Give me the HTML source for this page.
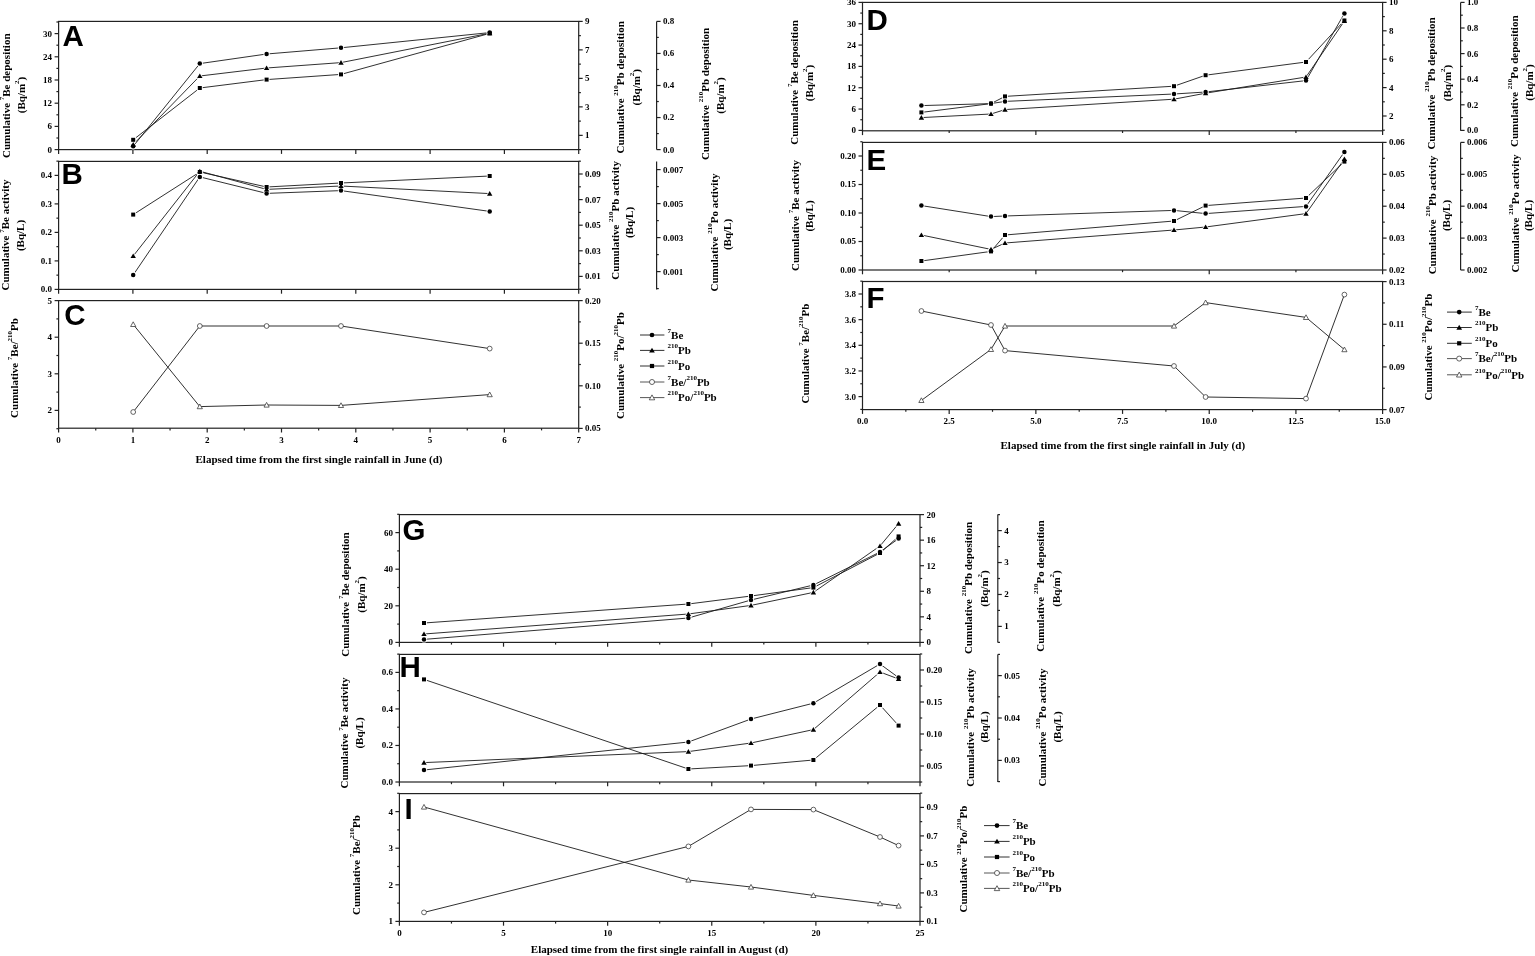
<!DOCTYPE html>
<html><head><meta charset="utf-8"><title>Cumulative deposition figure</title>
<style>
html,body{margin:0;padding:0;background:#fff;}
body{width:1535px;height:956px;overflow:hidden;}
svg{display:block;}
text{fill:#000;}
</style></head>
<body>
<svg width="1535" height="956" viewBox="0 0 1535 956">
<rect width="1535" height="956" fill="#fff"/>
<rect x="58.6" y="21.4" width="520.1" height="128.2" fill="none" stroke="#222" stroke-width="1.2"/>
<rect x="58.6" y="161.4" width="520.1" height="128" fill="none" stroke="#222" stroke-width="1.2"/>
<rect x="58.6" y="300.6" width="520.1" height="127.6" fill="none" stroke="#222" stroke-width="1.2"/>
<line x1="58.6" y1="149.6" x2="58.6" y2="153.9" stroke="#222" stroke-width="1.2"/>
<line x1="132.9" y1="149.6" x2="132.9" y2="153.9" stroke="#222" stroke-width="1.2"/>
<line x1="207.2" y1="149.6" x2="207.2" y2="153.9" stroke="#222" stroke-width="1.2"/>
<line x1="281.5" y1="149.6" x2="281.5" y2="153.9" stroke="#222" stroke-width="1.2"/>
<line x1="355.8" y1="149.6" x2="355.8" y2="153.9" stroke="#222" stroke-width="1.2"/>
<line x1="430.1" y1="149.6" x2="430.1" y2="153.9" stroke="#222" stroke-width="1.2"/>
<line x1="504.4" y1="149.6" x2="504.4" y2="153.9" stroke="#222" stroke-width="1.2"/>
<line x1="578.7" y1="149.6" x2="578.7" y2="153.9" stroke="#222" stroke-width="1.2"/>
<line x1="58.6" y1="289.4" x2="58.6" y2="293.7" stroke="#222" stroke-width="1.2"/>
<line x1="132.9" y1="289.4" x2="132.9" y2="293.7" stroke="#222" stroke-width="1.2"/>
<line x1="207.2" y1="289.4" x2="207.2" y2="293.7" stroke="#222" stroke-width="1.2"/>
<line x1="281.5" y1="289.4" x2="281.5" y2="293.7" stroke="#222" stroke-width="1.2"/>
<line x1="355.8" y1="289.4" x2="355.8" y2="293.7" stroke="#222" stroke-width="1.2"/>
<line x1="430.1" y1="289.4" x2="430.1" y2="293.7" stroke="#222" stroke-width="1.2"/>
<line x1="504.4" y1="289.4" x2="504.4" y2="293.7" stroke="#222" stroke-width="1.2"/>
<line x1="578.7" y1="289.4" x2="578.7" y2="293.7" stroke="#222" stroke-width="1.2"/>
<line x1="58.6" y1="428.2" x2="58.6" y2="432.5" stroke="#222" stroke-width="1.2"/>
<text x="58.6" y="442.8" text-anchor="middle" font-family="'Liberation Serif','Times New Roman',serif" font-weight="bold" font-size="9">0</text>
<line x1="95.75" y1="428.2" x2="95.75" y2="430.4" stroke="#222" stroke-width="1.2"/>
<line x1="132.9" y1="428.2" x2="132.9" y2="432.5" stroke="#222" stroke-width="1.2"/>
<text x="132.9" y="442.8" text-anchor="middle" font-family="'Liberation Serif','Times New Roman',serif" font-weight="bold" font-size="9">1</text>
<line x1="170.05" y1="428.2" x2="170.05" y2="430.4" stroke="#222" stroke-width="1.2"/>
<line x1="207.2" y1="428.2" x2="207.2" y2="432.5" stroke="#222" stroke-width="1.2"/>
<text x="207.2" y="442.8" text-anchor="middle" font-family="'Liberation Serif','Times New Roman',serif" font-weight="bold" font-size="9">2</text>
<line x1="244.35" y1="428.2" x2="244.35" y2="430.4" stroke="#222" stroke-width="1.2"/>
<line x1="281.5" y1="428.2" x2="281.5" y2="432.5" stroke="#222" stroke-width="1.2"/>
<text x="281.5" y="442.8" text-anchor="middle" font-family="'Liberation Serif','Times New Roman',serif" font-weight="bold" font-size="9">3</text>
<line x1="318.65" y1="428.2" x2="318.65" y2="430.4" stroke="#222" stroke-width="1.2"/>
<line x1="355.8" y1="428.2" x2="355.8" y2="432.5" stroke="#222" stroke-width="1.2"/>
<text x="355.8" y="442.8" text-anchor="middle" font-family="'Liberation Serif','Times New Roman',serif" font-weight="bold" font-size="9">4</text>
<line x1="392.95" y1="428.2" x2="392.95" y2="430.4" stroke="#222" stroke-width="1.2"/>
<line x1="430.1" y1="428.2" x2="430.1" y2="432.5" stroke="#222" stroke-width="1.2"/>
<text x="430.1" y="442.8" text-anchor="middle" font-family="'Liberation Serif','Times New Roman',serif" font-weight="bold" font-size="9">5</text>
<line x1="467.25" y1="428.2" x2="467.25" y2="430.4" stroke="#222" stroke-width="1.2"/>
<line x1="504.4" y1="428.2" x2="504.4" y2="432.5" stroke="#222" stroke-width="1.2"/>
<text x="504.4" y="442.8" text-anchor="middle" font-family="'Liberation Serif','Times New Roman',serif" font-weight="bold" font-size="9">6</text>
<line x1="541.55" y1="428.2" x2="541.55" y2="430.4" stroke="#222" stroke-width="1.2"/>
<line x1="578.7" y1="428.2" x2="578.7" y2="432.5" stroke="#222" stroke-width="1.2"/>
<text x="578.7" y="442.8" text-anchor="middle" font-family="'Liberation Serif','Times New Roman',serif" font-weight="bold" font-size="9">7</text>
<line x1="58.6" y1="149.6" x2="54.6" y2="149.6" stroke="#222" stroke-width="1.2"/>
<text x="52.1" y="152.5" text-anchor="end" font-family="'Liberation Serif','Times New Roman',serif" font-weight="bold" font-size="9">0</text>
<line x1="58.6" y1="138" x2="56.4" y2="138" stroke="#222" stroke-width="1.2"/>
<line x1="58.6" y1="126.4" x2="54.6" y2="126.4" stroke="#222" stroke-width="1.2"/>
<text x="52.1" y="129.3" text-anchor="end" font-family="'Liberation Serif','Times New Roman',serif" font-weight="bold" font-size="9">6</text>
<line x1="58.6" y1="114.8" x2="56.4" y2="114.8" stroke="#222" stroke-width="1.2"/>
<line x1="58.6" y1="103.2" x2="54.6" y2="103.2" stroke="#222" stroke-width="1.2"/>
<text x="52.1" y="106.1" text-anchor="end" font-family="'Liberation Serif','Times New Roman',serif" font-weight="bold" font-size="9">12</text>
<line x1="58.6" y1="91.6" x2="56.4" y2="91.6" stroke="#222" stroke-width="1.2"/>
<line x1="58.6" y1="80" x2="54.6" y2="80" stroke="#222" stroke-width="1.2"/>
<text x="52.1" y="82.9" text-anchor="end" font-family="'Liberation Serif','Times New Roman',serif" font-weight="bold" font-size="9">18</text>
<line x1="58.6" y1="68.4" x2="56.4" y2="68.4" stroke="#222" stroke-width="1.2"/>
<line x1="58.6" y1="56.8" x2="54.6" y2="56.8" stroke="#222" stroke-width="1.2"/>
<text x="52.1" y="59.7" text-anchor="end" font-family="'Liberation Serif','Times New Roman',serif" font-weight="bold" font-size="9">24</text>
<line x1="58.6" y1="45.2" x2="56.4" y2="45.2" stroke="#222" stroke-width="1.2"/>
<line x1="58.6" y1="33.6" x2="54.6" y2="33.6" stroke="#222" stroke-width="1.2"/>
<text x="52.1" y="36.5" text-anchor="end" font-family="'Liberation Serif','Times New Roman',serif" font-weight="bold" font-size="9">30</text>
<line x1="58.6" y1="22" x2="56.4" y2="22" stroke="#222" stroke-width="1.2"/>
<line x1="578.7" y1="149.6" x2="580.9" y2="149.6" stroke="#222" stroke-width="1.2"/>
<line x1="578.7" y1="135.36" x2="582.7" y2="135.36" stroke="#222" stroke-width="1.2"/>
<text x="585.1" y="138.26" text-anchor="start" font-family="'Liberation Serif','Times New Roman',serif" font-weight="bold" font-size="9">1</text>
<line x1="578.7" y1="121.11" x2="580.9" y2="121.11" stroke="#222" stroke-width="1.2"/>
<line x1="578.7" y1="106.87" x2="582.7" y2="106.87" stroke="#222" stroke-width="1.2"/>
<text x="585.1" y="109.77" text-anchor="start" font-family="'Liberation Serif','Times New Roman',serif" font-weight="bold" font-size="9">3</text>
<line x1="578.7" y1="92.62" x2="580.9" y2="92.62" stroke="#222" stroke-width="1.2"/>
<line x1="578.7" y1="78.38" x2="582.7" y2="78.38" stroke="#222" stroke-width="1.2"/>
<text x="585.1" y="81.28" text-anchor="start" font-family="'Liberation Serif','Times New Roman',serif" font-weight="bold" font-size="9">5</text>
<line x1="578.7" y1="64.13" x2="580.9" y2="64.13" stroke="#222" stroke-width="1.2"/>
<line x1="578.7" y1="49.89" x2="582.7" y2="49.89" stroke="#222" stroke-width="1.2"/>
<text x="585.1" y="52.79" text-anchor="start" font-family="'Liberation Serif','Times New Roman',serif" font-weight="bold" font-size="9">7</text>
<line x1="578.7" y1="35.64" x2="580.9" y2="35.64" stroke="#222" stroke-width="1.2"/>
<line x1="578.7" y1="21.4" x2="582.7" y2="21.4" stroke="#222" stroke-width="1.2"/>
<text x="585.1" y="24.3" text-anchor="start" font-family="'Liberation Serif','Times New Roman',serif" font-weight="bold" font-size="9">9</text>
<line x1="656.6" y1="21.4" x2="656.6" y2="149.6" stroke="#222" stroke-width="1.2"/>
<line x1="656.6" y1="149.6" x2="660.6" y2="149.6" stroke="#222" stroke-width="1.2"/>
<text x="663" y="152.5" text-anchor="start" font-family="'Liberation Serif','Times New Roman',serif" font-weight="bold" font-size="9">0.0</text>
<line x1="656.6" y1="133.57" x2="658.8" y2="133.57" stroke="#222" stroke-width="1.2"/>
<line x1="656.6" y1="117.55" x2="660.6" y2="117.55" stroke="#222" stroke-width="1.2"/>
<text x="663" y="120.45" text-anchor="start" font-family="'Liberation Serif','Times New Roman',serif" font-weight="bold" font-size="9">0.2</text>
<line x1="656.6" y1="101.53" x2="658.8" y2="101.53" stroke="#222" stroke-width="1.2"/>
<line x1="656.6" y1="85.5" x2="660.6" y2="85.5" stroke="#222" stroke-width="1.2"/>
<text x="663" y="88.4" text-anchor="start" font-family="'Liberation Serif','Times New Roman',serif" font-weight="bold" font-size="9">0.4</text>
<line x1="656.6" y1="69.48" x2="658.8" y2="69.48" stroke="#222" stroke-width="1.2"/>
<line x1="656.6" y1="53.45" x2="660.6" y2="53.45" stroke="#222" stroke-width="1.2"/>
<text x="663" y="56.35" text-anchor="start" font-family="'Liberation Serif','Times New Roman',serif" font-weight="bold" font-size="9">0.6</text>
<line x1="656.6" y1="37.42" x2="658.8" y2="37.42" stroke="#222" stroke-width="1.2"/>
<line x1="656.6" y1="21.4" x2="660.6" y2="21.4" stroke="#222" stroke-width="1.2"/>
<text x="663" y="24.3" text-anchor="start" font-family="'Liberation Serif','Times New Roman',serif" font-weight="bold" font-size="9">0.8</text>
<line x1="58.6" y1="289.4" x2="54.6" y2="289.4" stroke="#222" stroke-width="1.2"/>
<text x="52.1" y="292.3" text-anchor="end" font-family="'Liberation Serif','Times New Roman',serif" font-weight="bold" font-size="9">0.0</text>
<line x1="58.6" y1="275.15" x2="56.4" y2="275.15" stroke="#222" stroke-width="1.2"/>
<line x1="58.6" y1="260.9" x2="54.6" y2="260.9" stroke="#222" stroke-width="1.2"/>
<text x="52.1" y="263.8" text-anchor="end" font-family="'Liberation Serif','Times New Roman',serif" font-weight="bold" font-size="9">0.1</text>
<line x1="58.6" y1="246.65" x2="56.4" y2="246.65" stroke="#222" stroke-width="1.2"/>
<line x1="58.6" y1="232.4" x2="54.6" y2="232.4" stroke="#222" stroke-width="1.2"/>
<text x="52.1" y="235.3" text-anchor="end" font-family="'Liberation Serif','Times New Roman',serif" font-weight="bold" font-size="9">0.2</text>
<line x1="58.6" y1="218.15" x2="56.4" y2="218.15" stroke="#222" stroke-width="1.2"/>
<line x1="58.6" y1="203.9" x2="54.6" y2="203.9" stroke="#222" stroke-width="1.2"/>
<text x="52.1" y="206.8" text-anchor="end" font-family="'Liberation Serif','Times New Roman',serif" font-weight="bold" font-size="9">0.3</text>
<line x1="58.6" y1="189.65" x2="56.4" y2="189.65" stroke="#222" stroke-width="1.2"/>
<line x1="58.6" y1="175.4" x2="54.6" y2="175.4" stroke="#222" stroke-width="1.2"/>
<text x="52.1" y="178.3" text-anchor="end" font-family="'Liberation Serif','Times New Roman',serif" font-weight="bold" font-size="9">0.4</text>
<line x1="58.6" y1="161.15" x2="56.4" y2="161.15" stroke="#222" stroke-width="1.2"/>
<line x1="578.7" y1="289.2" x2="580.9" y2="289.2" stroke="#222" stroke-width="1.2"/>
<line x1="578.7" y1="276.4" x2="582.7" y2="276.4" stroke="#222" stroke-width="1.2"/>
<text x="585.1" y="279.3" text-anchor="start" font-family="'Liberation Serif','Times New Roman',serif" font-weight="bold" font-size="9">0.01</text>
<line x1="578.7" y1="263.6" x2="580.9" y2="263.6" stroke="#222" stroke-width="1.2"/>
<line x1="578.7" y1="250.8" x2="582.7" y2="250.8" stroke="#222" stroke-width="1.2"/>
<text x="585.1" y="253.7" text-anchor="start" font-family="'Liberation Serif','Times New Roman',serif" font-weight="bold" font-size="9">0.03</text>
<line x1="578.7" y1="238" x2="580.9" y2="238" stroke="#222" stroke-width="1.2"/>
<line x1="578.7" y1="225.2" x2="582.7" y2="225.2" stroke="#222" stroke-width="1.2"/>
<text x="585.1" y="228.1" text-anchor="start" font-family="'Liberation Serif','Times New Roman',serif" font-weight="bold" font-size="9">0.05</text>
<line x1="578.7" y1="212.4" x2="580.9" y2="212.4" stroke="#222" stroke-width="1.2"/>
<line x1="578.7" y1="199.6" x2="582.7" y2="199.6" stroke="#222" stroke-width="1.2"/>
<text x="585.1" y="202.5" text-anchor="start" font-family="'Liberation Serif','Times New Roman',serif" font-weight="bold" font-size="9">0.07</text>
<line x1="578.7" y1="186.8" x2="580.9" y2="186.8" stroke="#222" stroke-width="1.2"/>
<line x1="578.7" y1="174" x2="582.7" y2="174" stroke="#222" stroke-width="1.2"/>
<text x="585.1" y="176.9" text-anchor="start" font-family="'Liberation Serif','Times New Roman',serif" font-weight="bold" font-size="9">0.09</text>
<line x1="578.7" y1="161.2" x2="580.9" y2="161.2" stroke="#222" stroke-width="1.2"/>
<line x1="656.6" y1="161.4" x2="656.6" y2="289.4" stroke="#222" stroke-width="1.2"/>
<line x1="656.6" y1="288.6" x2="658.8" y2="288.6" stroke="#222" stroke-width="1.2"/>
<line x1="656.6" y1="271.6" x2="660.6" y2="271.6" stroke="#222" stroke-width="1.2"/>
<text x="663" y="274.5" text-anchor="start" font-family="'Liberation Serif','Times New Roman',serif" font-weight="bold" font-size="9">0.001</text>
<line x1="656.6" y1="254.6" x2="658.8" y2="254.6" stroke="#222" stroke-width="1.2"/>
<line x1="656.6" y1="237.6" x2="660.6" y2="237.6" stroke="#222" stroke-width="1.2"/>
<text x="663" y="240.5" text-anchor="start" font-family="'Liberation Serif','Times New Roman',serif" font-weight="bold" font-size="9">0.003</text>
<line x1="656.6" y1="220.6" x2="658.8" y2="220.6" stroke="#222" stroke-width="1.2"/>
<line x1="656.6" y1="203.6" x2="660.6" y2="203.6" stroke="#222" stroke-width="1.2"/>
<text x="663" y="206.5" text-anchor="start" font-family="'Liberation Serif','Times New Roman',serif" font-weight="bold" font-size="9">0.005</text>
<line x1="656.6" y1="186.6" x2="658.8" y2="186.6" stroke="#222" stroke-width="1.2"/>
<line x1="656.6" y1="169.6" x2="660.6" y2="169.6" stroke="#222" stroke-width="1.2"/>
<text x="663" y="172.5" text-anchor="start" font-family="'Liberation Serif','Times New Roman',serif" font-weight="bold" font-size="9">0.007</text>
<line x1="58.6" y1="428.7" x2="56.4" y2="428.7" stroke="#222" stroke-width="1.2"/>
<line x1="58.6" y1="410.4" x2="54.6" y2="410.4" stroke="#222" stroke-width="1.2"/>
<text x="52.1" y="413.3" text-anchor="end" font-family="'Liberation Serif','Times New Roman',serif" font-weight="bold" font-size="9">2</text>
<line x1="58.6" y1="392.1" x2="56.4" y2="392.1" stroke="#222" stroke-width="1.2"/>
<line x1="58.6" y1="373.8" x2="54.6" y2="373.8" stroke="#222" stroke-width="1.2"/>
<text x="52.1" y="376.7" text-anchor="end" font-family="'Liberation Serif','Times New Roman',serif" font-weight="bold" font-size="9">3</text>
<line x1="58.6" y1="355.5" x2="56.4" y2="355.5" stroke="#222" stroke-width="1.2"/>
<line x1="58.6" y1="337.2" x2="54.6" y2="337.2" stroke="#222" stroke-width="1.2"/>
<text x="52.1" y="340.1" text-anchor="end" font-family="'Liberation Serif','Times New Roman',serif" font-weight="bold" font-size="9">4</text>
<line x1="58.6" y1="318.9" x2="56.4" y2="318.9" stroke="#222" stroke-width="1.2"/>
<line x1="58.6" y1="300.6" x2="54.6" y2="300.6" stroke="#222" stroke-width="1.2"/>
<text x="52.1" y="303.5" text-anchor="end" font-family="'Liberation Serif','Times New Roman',serif" font-weight="bold" font-size="9">5</text>
<line x1="578.7" y1="428.4" x2="582.7" y2="428.4" stroke="#222" stroke-width="1.2"/>
<text x="585.1" y="431.3" text-anchor="start" font-family="'Liberation Serif','Times New Roman',serif" font-weight="bold" font-size="9">0.05</text>
<line x1="578.7" y1="407.1" x2="580.9" y2="407.1" stroke="#222" stroke-width="1.2"/>
<line x1="578.7" y1="385.8" x2="582.7" y2="385.8" stroke="#222" stroke-width="1.2"/>
<text x="585.1" y="388.7" text-anchor="start" font-family="'Liberation Serif','Times New Roman',serif" font-weight="bold" font-size="9">0.10</text>
<line x1="578.7" y1="364.5" x2="580.9" y2="364.5" stroke="#222" stroke-width="1.2"/>
<line x1="578.7" y1="343.2" x2="582.7" y2="343.2" stroke="#222" stroke-width="1.2"/>
<text x="585.1" y="346.1" text-anchor="start" font-family="'Liberation Serif','Times New Roman',serif" font-weight="bold" font-size="9">0.15</text>
<line x1="578.7" y1="321.9" x2="580.9" y2="321.9" stroke="#222" stroke-width="1.2"/>
<line x1="578.7" y1="300.6" x2="582.7" y2="300.6" stroke="#222" stroke-width="1.2"/>
<text x="585.1" y="303.5" text-anchor="start" font-family="'Liberation Serif','Times New Roman',serif" font-weight="bold" font-size="9">0.20</text>
<polyline points="133.2,139.8 199.8,88 266.6,79.6 341,74.4 489.7,33.4" fill="none" stroke="#1a1a1a" stroke-width="0.9"/>
<polyline points="133.2,144.5 199.8,76 266.6,68 341,62.6 489.7,33.2" fill="none" stroke="#1a1a1a" stroke-width="0.9"/>
<polyline points="133.2,146.3 199.8,63.6 266.6,54 341,47.8 489.7,32.6" fill="none" stroke="#1a1a1a" stroke-width="0.9"/>
<rect x="130.3" y="136.9" width="5.8" height="5.8" fill="#fff"/>
<rect x="196.9" y="85.1" width="5.8" height="5.8" fill="#fff"/>
<rect x="263.7" y="76.7" width="5.8" height="5.8" fill="#fff"/>
<rect x="338.1" y="71.5" width="5.8" height="5.8" fill="#fff"/>
<rect x="486.8" y="30.5" width="5.8" height="5.8" fill="#fff"/>
<polygon points="133.2,140.57 129.2,147.37 137.2,147.37" fill="#fff"/>
<polygon points="199.8,72.07 195.8,78.87 203.8,78.87" fill="#fff"/>
<polygon points="266.6,64.07 262.6,70.87 270.6,70.87" fill="#fff"/>
<polygon points="341,58.67 337,65.47 345,65.47" fill="#fff"/>
<polygon points="489.7,29.27 485.7,36.07 493.7,36.07" fill="#fff"/>
<circle cx="133.2" cy="146.3" r="3.15" fill="#fff"/>
<circle cx="199.8" cy="63.6" r="3.15" fill="#fff"/>
<circle cx="266.6" cy="54" r="3.15" fill="#fff"/>
<circle cx="341" cy="47.8" r="3.15" fill="#fff"/>
<circle cx="489.7" cy="32.6" r="3.15" fill="#fff"/>
<rect x="131.2" y="137.8" width="4" height="4" fill="#000"/>
<rect x="197.8" y="86" width="4" height="4" fill="#000"/>
<rect x="264.6" y="77.6" width="4" height="4" fill="#000"/>
<rect x="339" y="72.4" width="4" height="4" fill="#000"/>
<rect x="487.7" y="31.4" width="4" height="4" fill="#000"/>
<polygon points="133.2,141.97 130.5,146.57 135.9,146.57" fill="#000"/>
<polygon points="199.8,73.47 197.1,78.07 202.5,78.07" fill="#000"/>
<polygon points="266.6,65.47 263.9,70.07 269.3,70.07" fill="#000"/>
<polygon points="341,60.07 338.3,64.67 343.7,64.67" fill="#000"/>
<polygon points="489.7,30.67 487,35.27 492.4,35.27" fill="#000"/>
<circle cx="133.2" cy="146.3" r="2.25" fill="#000"/>
<circle cx="199.8" cy="63.6" r="2.25" fill="#000"/>
<circle cx="266.6" cy="54" r="2.25" fill="#000"/>
<circle cx="341" cy="47.8" r="2.25" fill="#000"/>
<circle cx="489.7" cy="32.6" r="2.25" fill="#000"/>
<polyline points="133.2,214.6 199.8,172 266.6,187 341,183 489.7,176" fill="none" stroke="#1a1a1a" stroke-width="0.9"/>
<polyline points="133.2,256 199.8,171.2 266.6,189.4 341,186 489.7,193.6" fill="none" stroke="#1a1a1a" stroke-width="0.9"/>
<polyline points="133.2,275 199.8,176.9 266.6,193.4 341,190.6 489.7,211.4" fill="none" stroke="#1a1a1a" stroke-width="0.9"/>
<rect x="130.3" y="211.7" width="5.8" height="5.8" fill="#fff"/>
<rect x="196.9" y="169.1" width="5.8" height="5.8" fill="#fff"/>
<rect x="263.7" y="184.1" width="5.8" height="5.8" fill="#fff"/>
<rect x="338.1" y="180.1" width="5.8" height="5.8" fill="#fff"/>
<rect x="486.8" y="173.1" width="5.8" height="5.8" fill="#fff"/>
<polygon points="133.2,252.07 129.2,258.87 137.2,258.87" fill="#fff"/>
<polygon points="199.8,167.27 195.8,174.07 203.8,174.07" fill="#fff"/>
<polygon points="266.6,185.47 262.6,192.27 270.6,192.27" fill="#fff"/>
<polygon points="341,182.07 337,188.87 345,188.87" fill="#fff"/>
<polygon points="489.7,189.67 485.7,196.47 493.7,196.47" fill="#fff"/>
<circle cx="133.2" cy="275" r="3.15" fill="#fff"/>
<circle cx="199.8" cy="176.9" r="3.15" fill="#fff"/>
<circle cx="266.6" cy="193.4" r="3.15" fill="#fff"/>
<circle cx="341" cy="190.6" r="3.15" fill="#fff"/>
<circle cx="489.7" cy="211.4" r="3.15" fill="#fff"/>
<rect x="131.2" y="212.6" width="4" height="4" fill="#000"/>
<rect x="197.8" y="170" width="4" height="4" fill="#000"/>
<rect x="264.6" y="185" width="4" height="4" fill="#000"/>
<rect x="339" y="181" width="4" height="4" fill="#000"/>
<rect x="487.7" y="174" width="4" height="4" fill="#000"/>
<polygon points="133.2,253.47 130.5,258.07 135.9,258.07" fill="#000"/>
<polygon points="199.8,168.67 197.1,173.27 202.5,173.27" fill="#000"/>
<polygon points="266.6,186.87 263.9,191.47 269.3,191.47" fill="#000"/>
<polygon points="341,183.47 338.3,188.07 343.7,188.07" fill="#000"/>
<polygon points="489.7,191.07 487,195.67 492.4,195.67" fill="#000"/>
<circle cx="133.2" cy="275" r="2.25" fill="#000"/>
<circle cx="199.8" cy="176.9" r="2.25" fill="#000"/>
<circle cx="266.6" cy="193.4" r="2.25" fill="#000"/>
<circle cx="341" cy="190.6" r="2.25" fill="#000"/>
<circle cx="489.7" cy="211.4" r="2.25" fill="#000"/>
<polyline points="133.2,412 199.8,326 266.6,326 341,326 489.7,348.6" fill="none" stroke="#1a1a1a" stroke-width="0.9"/>
<polyline points="133.2,324.4 199.8,406.6 266.6,405 341,405.4 489.7,394.6" fill="none" stroke="#1a1a1a" stroke-width="0.9"/>
<circle cx="133.2" cy="412" r="2.4" fill="#fff" stroke="#333" stroke-width="0.75"/>
<circle cx="199.8" cy="326" r="2.4" fill="#fff" stroke="#333" stroke-width="0.75"/>
<circle cx="266.6" cy="326" r="2.4" fill="#fff" stroke="#333" stroke-width="0.75"/>
<circle cx="341" cy="326" r="2.4" fill="#fff" stroke="#333" stroke-width="0.75"/>
<circle cx="489.7" cy="348.6" r="2.4" fill="#fff" stroke="#333" stroke-width="0.75"/>
<polygon points="133.2,321.81 130.6,326.51 135.8,326.51" fill="#fff" stroke="#333" stroke-width="0.75" stroke-linejoin="miter"/>
<polygon points="199.8,404.02 197.2,408.72 202.4,408.72" fill="#fff" stroke="#333" stroke-width="0.75" stroke-linejoin="miter"/>
<polygon points="266.6,402.42 264,407.12 269.2,407.12" fill="#fff" stroke="#333" stroke-width="0.75" stroke-linejoin="miter"/>
<polygon points="341,402.81 338.4,407.51 343.6,407.51" fill="#fff" stroke="#333" stroke-width="0.75" stroke-linejoin="miter"/>
<polygon points="489.7,392.02 487.1,396.72 492.3,396.72" fill="#fff" stroke="#333" stroke-width="0.75" stroke-linejoin="miter"/>
<text x="62.5" y="46" text-anchor="start" font-family="'Liberation Sans',Arial,sans-serif" font-weight="bold" font-size="29.5">A</text>
<text x="61.5" y="184" text-anchor="start" font-family="'Liberation Sans',Arial,sans-serif" font-weight="bold" font-size="29.5">B</text>
<text x="64.2" y="324.5" text-anchor="start" font-family="'Liberation Sans',Arial,sans-serif" font-weight="bold" font-size="29.5">C</text>
<text x="10" y="95.7" transform="rotate(-90 10 95.7)" text-anchor="middle" font-family="'Liberation Serif','Times New Roman',serif" font-weight="bold" font-size="11"><tspan>Cumulative </tspan><tspan font-size="7" dy="-5.7">7</tspan><tspan dy="5.7">Be deposition</tspan></text>
<text x="24.6" y="95" transform="rotate(-90 24.6 95)" text-anchor="middle" font-family="'Liberation Serif','Times New Roman',serif" font-weight="bold" font-size="11"><tspan>(Bq/m</tspan><tspan font-size="7" dy="-5.7">2</tspan><tspan dy="5.7">)</tspan></text>
<text x="624" y="87.3" transform="rotate(-90 624 87.3)" text-anchor="middle" font-family="'Liberation Serif','Times New Roman',serif" font-weight="bold" font-size="11"><tspan>Cumulative </tspan><tspan font-size="7" dy="-5.7">210</tspan><tspan dy="5.7">Pb deposition</tspan></text>
<text x="639.8" y="87.2" transform="rotate(-90 639.8 87.2)" text-anchor="middle" font-family="'Liberation Serif','Times New Roman',serif" font-weight="bold" font-size="11"><tspan>(Bq/m</tspan><tspan font-size="7" dy="-5.7">2</tspan><tspan dy="5.7">)</tspan></text>
<text x="709" y="94" transform="rotate(-90 709 94)" text-anchor="middle" font-family="'Liberation Serif','Times New Roman',serif" font-weight="bold" font-size="11"><tspan>Cumulative </tspan><tspan font-size="7" dy="-5.7">210</tspan><tspan dy="5.7">Pb deposition</tspan></text>
<text x="723.6" y="95.5" transform="rotate(-90 723.6 95.5)" text-anchor="middle" font-family="'Liberation Serif','Times New Roman',serif" font-weight="bold" font-size="11"><tspan>(Bq/m</tspan><tspan font-size="7" dy="-5.7">2</tspan><tspan dy="5.7">)</tspan></text>
<text x="9.4" y="235" transform="rotate(-90 9.4 235)" text-anchor="middle" font-family="'Liberation Serif','Times New Roman',serif" font-weight="bold" font-size="11"><tspan>Cumulative </tspan><tspan font-size="7" dy="-5.7">7</tspan><tspan dy="5.7">Be activity</tspan></text>
<text x="23.8" y="235.5" transform="rotate(-90 23.8 235.5)" text-anchor="middle" font-family="'Liberation Serif','Times New Roman',serif" font-weight="bold" font-size="11"><tspan>(Bq/L)</tspan></text>
<text x="619" y="220.3" transform="rotate(-90 619 220.3)" text-anchor="middle" font-family="'Liberation Serif','Times New Roman',serif" font-weight="bold" font-size="11"><tspan>Cumulative </tspan><tspan font-size="7" dy="-5.7">210</tspan><tspan dy="5.7">Pb activity</tspan></text>
<text x="632.6" y="222.5" transform="rotate(-90 632.6 222.5)" text-anchor="middle" font-family="'Liberation Serif','Times New Roman',serif" font-weight="bold" font-size="11"><tspan>(Bq/L)</tspan></text>
<text x="718" y="232.5" transform="rotate(-90 718 232.5)" text-anchor="middle" font-family="'Liberation Serif','Times New Roman',serif" font-weight="bold" font-size="11"><tspan>Cumulative </tspan><tspan font-size="7" dy="-5.7">210</tspan><tspan dy="5.7">Po activity</tspan></text>
<text x="731" y="234.5" transform="rotate(-90 731 234.5)" text-anchor="middle" font-family="'Liberation Serif','Times New Roman',serif" font-weight="bold" font-size="11"><tspan>(Bq/L)</tspan></text>
<text x="17.6" y="368" transform="rotate(-90 17.6 368)" text-anchor="middle" font-family="'Liberation Serif','Times New Roman',serif" font-weight="bold" font-size="11"><tspan>Cumulative </tspan><tspan font-size="7" dy="-5.7">7</tspan><tspan dy="5.7">Be/</tspan><tspan font-size="7" dy="-5.7">210</tspan><tspan dy="5.7">Pb</tspan></text>
<text x="624" y="365.5" transform="rotate(-90 624 365.5)" text-anchor="middle" font-family="'Liberation Serif','Times New Roman',serif" font-weight="bold" font-size="11"><tspan>Cumulative </tspan><tspan font-size="7" dy="-5.7">210</tspan><tspan dy="5.7">Po/</tspan><tspan font-size="7" dy="-5.7">210</tspan><tspan dy="5.7">Pb</tspan></text>
<text x="319" y="462.5" text-anchor="middle" font-family="'Liberation Serif','Times New Roman',serif" font-weight="bold" font-size="11">Elapsed time from the first single rainfall in June (d)</text>
<line x1="640" y1="335" x2="664.4" y2="335" stroke="#1a1a1a" stroke-width="0.9"/>
<circle cx="652" cy="335" r="2.36" fill="#000"/>
<text x="667.6" y="338.8" font-family="'Liberation Serif','Times New Roman',serif" font-weight="bold" font-size="11"><tspan font-size="7" dy="-6.0">7</tspan><tspan dy="6.0">Be</tspan></text>
<line x1="640" y1="350.4" x2="664.4" y2="350.4" stroke="#1a1a1a" stroke-width="0.9"/>
<polygon points="652,347.74 649.16,352.57 654.84,352.57" fill="#000"/>
<text x="667.6" y="354.2" font-family="'Liberation Serif','Times New Roman',serif" font-weight="bold" font-size="11"><tspan font-size="7" dy="-6.0">210</tspan><tspan dy="6.0">Pb</tspan></text>
<line x1="640" y1="366" x2="664.4" y2="366" stroke="#1a1a1a" stroke-width="0.9"/>
<rect x="649.9" y="363.9" width="4.2" height="4.2" fill="#000"/>
<text x="667.6" y="369.8" font-family="'Liberation Serif','Times New Roman',serif" font-weight="bold" font-size="11"><tspan font-size="7" dy="-6.0">210</tspan><tspan dy="6.0">Po</tspan></text>
<line x1="640" y1="382" x2="664.4" y2="382" stroke="#444" stroke-width="0.9"/>
<circle cx="652" cy="382" r="2.52" fill="#fff" stroke="#333" stroke-width="0.75"/>
<text x="667.6" y="385.8" font-family="'Liberation Serif','Times New Roman',serif" font-weight="bold" font-size="11"><tspan font-size="7" dy="-6.0">7</tspan><tspan dy="6.0">Be/</tspan><tspan font-size="7" dy="-6.0">210</tspan><tspan dy="6.0">Pb</tspan></text>
<line x1="640" y1="397.6" x2="664.4" y2="397.6" stroke="#444" stroke-width="0.9"/>
<polygon points="652,394.89 649.27,399.82 654.73,399.82" fill="#fff" stroke="#333" stroke-width="0.75" stroke-linejoin="miter"/>
<text x="667.6" y="401.4" font-family="'Liberation Serif','Times New Roman',serif" font-weight="bold" font-size="11"><tspan font-size="7" dy="-6.0">210</tspan><tspan dy="6.0">Po/</tspan><tspan font-size="7" dy="-6.0">210</tspan><tspan dy="6.0">Pb</tspan></text>
<rect x="862.5" y="2.4" width="520.1" height="128.4" fill="none" stroke="#222" stroke-width="1.2"/>
<rect x="862.5" y="142.4" width="520.1" height="127.6" fill="none" stroke="#222" stroke-width="1.2"/>
<rect x="862.5" y="281.5" width="520.1" height="128.1" fill="none" stroke="#222" stroke-width="1.2"/>
<line x1="862.5" y1="130.8" x2="862.5" y2="135.1" stroke="#222" stroke-width="1.2"/>
<line x1="949.18" y1="130.8" x2="949.18" y2="133" stroke="#222" stroke-width="1.2"/>
<line x1="1035.87" y1="130.8" x2="1035.87" y2="135.1" stroke="#222" stroke-width="1.2"/>
<line x1="1122.55" y1="130.8" x2="1122.55" y2="133" stroke="#222" stroke-width="1.2"/>
<line x1="1209.23" y1="130.8" x2="1209.23" y2="135.1" stroke="#222" stroke-width="1.2"/>
<line x1="1295.92" y1="130.8" x2="1295.92" y2="133" stroke="#222" stroke-width="1.2"/>
<line x1="1382.6" y1="130.8" x2="1382.6" y2="135.1" stroke="#222" stroke-width="1.2"/>
<line x1="862.5" y1="270" x2="862.5" y2="274.3" stroke="#222" stroke-width="1.2"/>
<line x1="949.18" y1="270" x2="949.18" y2="272.2" stroke="#222" stroke-width="1.2"/>
<line x1="1035.87" y1="270" x2="1035.87" y2="274.3" stroke="#222" stroke-width="1.2"/>
<line x1="1122.55" y1="270" x2="1122.55" y2="272.2" stroke="#222" stroke-width="1.2"/>
<line x1="1209.23" y1="270" x2="1209.23" y2="274.3" stroke="#222" stroke-width="1.2"/>
<line x1="1295.92" y1="270" x2="1295.92" y2="272.2" stroke="#222" stroke-width="1.2"/>
<line x1="1382.6" y1="270" x2="1382.6" y2="274.3" stroke="#222" stroke-width="1.2"/>
<line x1="862.5" y1="409.6" x2="862.5" y2="413.9" stroke="#222" stroke-width="1.2"/>
<text x="862.5" y="424.2" text-anchor="middle" font-family="'Liberation Serif','Times New Roman',serif" font-weight="bold" font-size="9">0.0</text>
<line x1="905.84" y1="409.6" x2="905.84" y2="411.8" stroke="#222" stroke-width="1.2"/>
<line x1="949.18" y1="409.6" x2="949.18" y2="413.9" stroke="#222" stroke-width="1.2"/>
<text x="949.18" y="424.2" text-anchor="middle" font-family="'Liberation Serif','Times New Roman',serif" font-weight="bold" font-size="9">2.5</text>
<line x1="992.52" y1="409.6" x2="992.52" y2="411.8" stroke="#222" stroke-width="1.2"/>
<line x1="1035.87" y1="409.6" x2="1035.87" y2="413.9" stroke="#222" stroke-width="1.2"/>
<text x="1035.87" y="424.2" text-anchor="middle" font-family="'Liberation Serif','Times New Roman',serif" font-weight="bold" font-size="9">5.0</text>
<line x1="1079.21" y1="409.6" x2="1079.21" y2="411.8" stroke="#222" stroke-width="1.2"/>
<line x1="1122.55" y1="409.6" x2="1122.55" y2="413.9" stroke="#222" stroke-width="1.2"/>
<text x="1122.55" y="424.2" text-anchor="middle" font-family="'Liberation Serif','Times New Roman',serif" font-weight="bold" font-size="9">7.5</text>
<line x1="1165.89" y1="409.6" x2="1165.89" y2="411.8" stroke="#222" stroke-width="1.2"/>
<line x1="1209.23" y1="409.6" x2="1209.23" y2="413.9" stroke="#222" stroke-width="1.2"/>
<text x="1209.23" y="424.2" text-anchor="middle" font-family="'Liberation Serif','Times New Roman',serif" font-weight="bold" font-size="9">10.0</text>
<line x1="1252.57" y1="409.6" x2="1252.57" y2="411.8" stroke="#222" stroke-width="1.2"/>
<line x1="1295.92" y1="409.6" x2="1295.92" y2="413.9" stroke="#222" stroke-width="1.2"/>
<text x="1295.92" y="424.2" text-anchor="middle" font-family="'Liberation Serif','Times New Roman',serif" font-weight="bold" font-size="9">12.5</text>
<line x1="1339.26" y1="409.6" x2="1339.26" y2="411.8" stroke="#222" stroke-width="1.2"/>
<line x1="1382.6" y1="409.6" x2="1382.6" y2="413.9" stroke="#222" stroke-width="1.2"/>
<text x="1382.6" y="424.2" text-anchor="middle" font-family="'Liberation Serif','Times New Roman',serif" font-weight="bold" font-size="9">15.0</text>
<line x1="862.5" y1="130.4" x2="858.5" y2="130.4" stroke="#222" stroke-width="1.2"/>
<text x="856" y="133.3" text-anchor="end" font-family="'Liberation Serif','Times New Roman',serif" font-weight="bold" font-size="9">0</text>
<line x1="862.5" y1="119.73" x2="860.3" y2="119.73" stroke="#222" stroke-width="1.2"/>
<line x1="862.5" y1="109.07" x2="858.5" y2="109.07" stroke="#222" stroke-width="1.2"/>
<text x="856" y="111.97" text-anchor="end" font-family="'Liberation Serif','Times New Roman',serif" font-weight="bold" font-size="9">6</text>
<line x1="862.5" y1="98.4" x2="860.3" y2="98.4" stroke="#222" stroke-width="1.2"/>
<line x1="862.5" y1="87.73" x2="858.5" y2="87.73" stroke="#222" stroke-width="1.2"/>
<text x="856" y="90.63" text-anchor="end" font-family="'Liberation Serif','Times New Roman',serif" font-weight="bold" font-size="9">12</text>
<line x1="862.5" y1="77.07" x2="860.3" y2="77.07" stroke="#222" stroke-width="1.2"/>
<line x1="862.5" y1="66.4" x2="858.5" y2="66.4" stroke="#222" stroke-width="1.2"/>
<text x="856" y="69.3" text-anchor="end" font-family="'Liberation Serif','Times New Roman',serif" font-weight="bold" font-size="9">18</text>
<line x1="862.5" y1="55.73" x2="860.3" y2="55.73" stroke="#222" stroke-width="1.2"/>
<line x1="862.5" y1="45.07" x2="858.5" y2="45.07" stroke="#222" stroke-width="1.2"/>
<text x="856" y="47.97" text-anchor="end" font-family="'Liberation Serif','Times New Roman',serif" font-weight="bold" font-size="9">24</text>
<line x1="862.5" y1="34.4" x2="860.3" y2="34.4" stroke="#222" stroke-width="1.2"/>
<line x1="862.5" y1="23.73" x2="858.5" y2="23.73" stroke="#222" stroke-width="1.2"/>
<text x="856" y="26.63" text-anchor="end" font-family="'Liberation Serif','Times New Roman',serif" font-weight="bold" font-size="9">30</text>
<line x1="862.5" y1="13.07" x2="860.3" y2="13.07" stroke="#222" stroke-width="1.2"/>
<line x1="862.5" y1="2.4" x2="858.5" y2="2.4" stroke="#222" stroke-width="1.2"/>
<text x="856" y="5.3" text-anchor="end" font-family="'Liberation Serif','Times New Roman',serif" font-weight="bold" font-size="9">36</text>
<line x1="1382.6" y1="130.2" x2="1384.8" y2="130.2" stroke="#222" stroke-width="1.2"/>
<line x1="1382.6" y1="116" x2="1386.6" y2="116" stroke="#222" stroke-width="1.2"/>
<text x="1389" y="118.9" text-anchor="start" font-family="'Liberation Serif','Times New Roman',serif" font-weight="bold" font-size="9">2</text>
<line x1="1382.6" y1="101.8" x2="1384.8" y2="101.8" stroke="#222" stroke-width="1.2"/>
<line x1="1382.6" y1="87.6" x2="1386.6" y2="87.6" stroke="#222" stroke-width="1.2"/>
<text x="1389" y="90.5" text-anchor="start" font-family="'Liberation Serif','Times New Roman',serif" font-weight="bold" font-size="9">4</text>
<line x1="1382.6" y1="73.4" x2="1384.8" y2="73.4" stroke="#222" stroke-width="1.2"/>
<line x1="1382.6" y1="59.2" x2="1386.6" y2="59.2" stroke="#222" stroke-width="1.2"/>
<text x="1389" y="62.1" text-anchor="start" font-family="'Liberation Serif','Times New Roman',serif" font-weight="bold" font-size="9">6</text>
<line x1="1382.6" y1="45" x2="1384.8" y2="45" stroke="#222" stroke-width="1.2"/>
<line x1="1382.6" y1="30.8" x2="1386.6" y2="30.8" stroke="#222" stroke-width="1.2"/>
<text x="1389" y="33.7" text-anchor="start" font-family="'Liberation Serif','Times New Roman',serif" font-weight="bold" font-size="9">8</text>
<line x1="1382.6" y1="16.6" x2="1384.8" y2="16.6" stroke="#222" stroke-width="1.2"/>
<line x1="1382.6" y1="2.4" x2="1386.6" y2="2.4" stroke="#222" stroke-width="1.2"/>
<text x="1389" y="5.3" text-anchor="start" font-family="'Liberation Serif','Times New Roman',serif" font-weight="bold" font-size="9">10</text>
<line x1="1460.6" y1="2.4" x2="1460.6" y2="130.8" stroke="#222" stroke-width="1.2"/>
<line x1="1460.6" y1="130.4" x2="1464.6" y2="130.4" stroke="#222" stroke-width="1.2"/>
<text x="1467" y="133.3" text-anchor="start" font-family="'Liberation Serif','Times New Roman',serif" font-weight="bold" font-size="9">0.0</text>
<line x1="1460.6" y1="117.6" x2="1462.8" y2="117.6" stroke="#222" stroke-width="1.2"/>
<line x1="1460.6" y1="104.8" x2="1464.6" y2="104.8" stroke="#222" stroke-width="1.2"/>
<text x="1467" y="107.7" text-anchor="start" font-family="'Liberation Serif','Times New Roman',serif" font-weight="bold" font-size="9">0.2</text>
<line x1="1460.6" y1="92" x2="1462.8" y2="92" stroke="#222" stroke-width="1.2"/>
<line x1="1460.6" y1="79.2" x2="1464.6" y2="79.2" stroke="#222" stroke-width="1.2"/>
<text x="1467" y="82.1" text-anchor="start" font-family="'Liberation Serif','Times New Roman',serif" font-weight="bold" font-size="9">0.4</text>
<line x1="1460.6" y1="66.4" x2="1462.8" y2="66.4" stroke="#222" stroke-width="1.2"/>
<line x1="1460.6" y1="53.6" x2="1464.6" y2="53.6" stroke="#222" stroke-width="1.2"/>
<text x="1467" y="56.5" text-anchor="start" font-family="'Liberation Serif','Times New Roman',serif" font-weight="bold" font-size="9">0.6</text>
<line x1="1460.6" y1="40.8" x2="1462.8" y2="40.8" stroke="#222" stroke-width="1.2"/>
<line x1="1460.6" y1="28" x2="1464.6" y2="28" stroke="#222" stroke-width="1.2"/>
<text x="1467" y="30.9" text-anchor="start" font-family="'Liberation Serif','Times New Roman',serif" font-weight="bold" font-size="9">0.8</text>
<line x1="1460.6" y1="15.2" x2="1462.8" y2="15.2" stroke="#222" stroke-width="1.2"/>
<line x1="1460.6" y1="2.4" x2="1464.6" y2="2.4" stroke="#222" stroke-width="1.2"/>
<text x="1467" y="5.3" text-anchor="start" font-family="'Liberation Serif','Times New Roman',serif" font-weight="bold" font-size="9">1.0</text>
<line x1="862.5" y1="270" x2="858.5" y2="270" stroke="#222" stroke-width="1.2"/>
<text x="856" y="272.9" text-anchor="end" font-family="'Liberation Serif','Times New Roman',serif" font-weight="bold" font-size="9">0.00</text>
<line x1="862.5" y1="255.75" x2="860.3" y2="255.75" stroke="#222" stroke-width="1.2"/>
<line x1="862.5" y1="241.5" x2="858.5" y2="241.5" stroke="#222" stroke-width="1.2"/>
<text x="856" y="244.4" text-anchor="end" font-family="'Liberation Serif','Times New Roman',serif" font-weight="bold" font-size="9">0.05</text>
<line x1="862.5" y1="227.25" x2="860.3" y2="227.25" stroke="#222" stroke-width="1.2"/>
<line x1="862.5" y1="213" x2="858.5" y2="213" stroke="#222" stroke-width="1.2"/>
<text x="856" y="215.9" text-anchor="end" font-family="'Liberation Serif','Times New Roman',serif" font-weight="bold" font-size="9">0.10</text>
<line x1="862.5" y1="198.75" x2="860.3" y2="198.75" stroke="#222" stroke-width="1.2"/>
<line x1="862.5" y1="184.5" x2="858.5" y2="184.5" stroke="#222" stroke-width="1.2"/>
<text x="856" y="187.4" text-anchor="end" font-family="'Liberation Serif','Times New Roman',serif" font-weight="bold" font-size="9">0.15</text>
<line x1="862.5" y1="170.25" x2="860.3" y2="170.25" stroke="#222" stroke-width="1.2"/>
<line x1="862.5" y1="156" x2="858.5" y2="156" stroke="#222" stroke-width="1.2"/>
<text x="856" y="158.9" text-anchor="end" font-family="'Liberation Serif','Times New Roman',serif" font-weight="bold" font-size="9">0.20</text>
<line x1="862.5" y1="141.75" x2="860.3" y2="141.75" stroke="#222" stroke-width="1.2"/>
<line x1="1382.6" y1="270" x2="1386.6" y2="270" stroke="#222" stroke-width="1.2"/>
<text x="1389" y="272.9" text-anchor="start" font-family="'Liberation Serif','Times New Roman',serif" font-weight="bold" font-size="9">0.02</text>
<line x1="1382.6" y1="254.05" x2="1384.8" y2="254.05" stroke="#222" stroke-width="1.2"/>
<line x1="1382.6" y1="238.1" x2="1386.6" y2="238.1" stroke="#222" stroke-width="1.2"/>
<text x="1389" y="241" text-anchor="start" font-family="'Liberation Serif','Times New Roman',serif" font-weight="bold" font-size="9">0.03</text>
<line x1="1382.6" y1="222.15" x2="1384.8" y2="222.15" stroke="#222" stroke-width="1.2"/>
<line x1="1382.6" y1="206.2" x2="1386.6" y2="206.2" stroke="#222" stroke-width="1.2"/>
<text x="1389" y="209.1" text-anchor="start" font-family="'Liberation Serif','Times New Roman',serif" font-weight="bold" font-size="9">0.04</text>
<line x1="1382.6" y1="190.25" x2="1384.8" y2="190.25" stroke="#222" stroke-width="1.2"/>
<line x1="1382.6" y1="174.3" x2="1386.6" y2="174.3" stroke="#222" stroke-width="1.2"/>
<text x="1389" y="177.2" text-anchor="start" font-family="'Liberation Serif','Times New Roman',serif" font-weight="bold" font-size="9">0.05</text>
<line x1="1382.6" y1="158.35" x2="1384.8" y2="158.35" stroke="#222" stroke-width="1.2"/>
<line x1="1382.6" y1="142.4" x2="1386.6" y2="142.4" stroke="#222" stroke-width="1.2"/>
<text x="1389" y="145.3" text-anchor="start" font-family="'Liberation Serif','Times New Roman',serif" font-weight="bold" font-size="9">0.06</text>
<line x1="1460.6" y1="142.4" x2="1460.6" y2="270" stroke="#222" stroke-width="1.2"/>
<line x1="1460.6" y1="270" x2="1464.6" y2="270" stroke="#222" stroke-width="1.2"/>
<text x="1467" y="272.9" text-anchor="start" font-family="'Liberation Serif','Times New Roman',serif" font-weight="bold" font-size="9">0.002</text>
<line x1="1460.6" y1="254.05" x2="1462.8" y2="254.05" stroke="#222" stroke-width="1.2"/>
<line x1="1460.6" y1="238.1" x2="1464.6" y2="238.1" stroke="#222" stroke-width="1.2"/>
<text x="1467" y="241" text-anchor="start" font-family="'Liberation Serif','Times New Roman',serif" font-weight="bold" font-size="9">0.003</text>
<line x1="1460.6" y1="222.15" x2="1462.8" y2="222.15" stroke="#222" stroke-width="1.2"/>
<line x1="1460.6" y1="206.2" x2="1464.6" y2="206.2" stroke="#222" stroke-width="1.2"/>
<text x="1467" y="209.1" text-anchor="start" font-family="'Liberation Serif','Times New Roman',serif" font-weight="bold" font-size="9">0.004</text>
<line x1="1460.6" y1="190.25" x2="1462.8" y2="190.25" stroke="#222" stroke-width="1.2"/>
<line x1="1460.6" y1="174.3" x2="1464.6" y2="174.3" stroke="#222" stroke-width="1.2"/>
<text x="1467" y="177.2" text-anchor="start" font-family="'Liberation Serif','Times New Roman',serif" font-weight="bold" font-size="9">0.005</text>
<line x1="1460.6" y1="158.35" x2="1462.8" y2="158.35" stroke="#222" stroke-width="1.2"/>
<line x1="1460.6" y1="142.4" x2="1464.6" y2="142.4" stroke="#222" stroke-width="1.2"/>
<text x="1467" y="145.3" text-anchor="start" font-family="'Liberation Serif','Times New Roman',serif" font-weight="bold" font-size="9">0.006</text>
<line x1="862.5" y1="409.42" x2="860.3" y2="409.42" stroke="#222" stroke-width="1.2"/>
<line x1="862.5" y1="396.6" x2="858.5" y2="396.6" stroke="#222" stroke-width="1.2"/>
<text x="856" y="399.5" text-anchor="end" font-family="'Liberation Serif','Times New Roman',serif" font-weight="bold" font-size="9">3.0</text>
<line x1="862.5" y1="383.77" x2="860.3" y2="383.77" stroke="#222" stroke-width="1.2"/>
<line x1="862.5" y1="370.95" x2="858.5" y2="370.95" stroke="#222" stroke-width="1.2"/>
<text x="856" y="373.85" text-anchor="end" font-family="'Liberation Serif','Times New Roman',serif" font-weight="bold" font-size="9">3.2</text>
<line x1="862.5" y1="358.12" x2="860.3" y2="358.12" stroke="#222" stroke-width="1.2"/>
<line x1="862.5" y1="345.3" x2="858.5" y2="345.3" stroke="#222" stroke-width="1.2"/>
<text x="856" y="348.2" text-anchor="end" font-family="'Liberation Serif','Times New Roman',serif" font-weight="bold" font-size="9">3.4</text>
<line x1="862.5" y1="332.48" x2="860.3" y2="332.48" stroke="#222" stroke-width="1.2"/>
<line x1="862.5" y1="319.65" x2="858.5" y2="319.65" stroke="#222" stroke-width="1.2"/>
<text x="856" y="322.55" text-anchor="end" font-family="'Liberation Serif','Times New Roman',serif" font-weight="bold" font-size="9">3.6</text>
<line x1="862.5" y1="306.82" x2="860.3" y2="306.82" stroke="#222" stroke-width="1.2"/>
<line x1="862.5" y1="294" x2="858.5" y2="294" stroke="#222" stroke-width="1.2"/>
<text x="856" y="296.9" text-anchor="end" font-family="'Liberation Serif','Times New Roman',serif" font-weight="bold" font-size="9">3.8</text>
<line x1="862.5" y1="281.17" x2="860.3" y2="281.17" stroke="#222" stroke-width="1.2"/>
<line x1="1382.6" y1="409.6" x2="1386.6" y2="409.6" stroke="#222" stroke-width="1.2"/>
<text x="1389" y="412.5" text-anchor="start" font-family="'Liberation Serif','Times New Roman',serif" font-weight="bold" font-size="9">0.07</text>
<line x1="1382.6" y1="388.27" x2="1384.8" y2="388.27" stroke="#222" stroke-width="1.2"/>
<line x1="1382.6" y1="366.93" x2="1386.6" y2="366.93" stroke="#222" stroke-width="1.2"/>
<text x="1389" y="369.83" text-anchor="start" font-family="'Liberation Serif','Times New Roman',serif" font-weight="bold" font-size="9">0.09</text>
<line x1="1382.6" y1="345.6" x2="1384.8" y2="345.6" stroke="#222" stroke-width="1.2"/>
<line x1="1382.6" y1="324.27" x2="1386.6" y2="324.27" stroke="#222" stroke-width="1.2"/>
<text x="1389" y="327.17" text-anchor="start" font-family="'Liberation Serif','Times New Roman',serif" font-weight="bold" font-size="9">0.11</text>
<line x1="1382.6" y1="302.93" x2="1384.8" y2="302.93" stroke="#222" stroke-width="1.2"/>
<line x1="1382.6" y1="281.6" x2="1386.6" y2="281.6" stroke="#222" stroke-width="1.2"/>
<text x="1389" y="284.5" text-anchor="start" font-family="'Liberation Serif','Times New Roman',serif" font-weight="bold" font-size="9">0.13</text>
<polyline points="921.4,112.4 991,103.6 1005,96.4 1174,86.2 1205.6,75.2 1306,62 1344.4,20.5" fill="none" stroke="#1a1a1a" stroke-width="0.9"/>
<polyline points="921.4,117.6 991,114 1005,109.6 1174,99.2 1205.6,93.2 1306,77 1344.4,21" fill="none" stroke="#1a1a1a" stroke-width="0.9"/>
<polyline points="921.4,105.6 991,103.6 1005,101.4 1174,94 1205.6,92 1306,80.6 1344.4,13.4" fill="none" stroke="#1a1a1a" stroke-width="0.9"/>
<rect x="918.5" y="109.5" width="5.8" height="5.8" fill="#fff"/>
<rect x="988.1" y="100.7" width="5.8" height="5.8" fill="#fff"/>
<rect x="1002.1" y="93.5" width="5.8" height="5.8" fill="#fff"/>
<rect x="1171.1" y="83.3" width="5.8" height="5.8" fill="#fff"/>
<rect x="1202.7" y="72.3" width="5.8" height="5.8" fill="#fff"/>
<rect x="1303.1" y="59.1" width="5.8" height="5.8" fill="#fff"/>
<rect x="1341.5" y="17.6" width="5.8" height="5.8" fill="#fff"/>
<polygon points="921.4,113.67 917.4,120.47 925.4,120.47" fill="#fff"/>
<polygon points="991,110.07 987,116.87 995,116.87" fill="#fff"/>
<polygon points="1005,105.67 1001,112.47 1009,112.47" fill="#fff"/>
<polygon points="1174,95.27 1170,102.07 1178,102.07" fill="#fff"/>
<polygon points="1205.6,89.27 1201.6,96.07 1209.6,96.07" fill="#fff"/>
<polygon points="1306,73.07 1302,79.87 1310,79.87" fill="#fff"/>
<polygon points="1344.4,17.07 1340.4,23.87 1348.4,23.87" fill="#fff"/>
<circle cx="921.4" cy="105.6" r="3.15" fill="#fff"/>
<circle cx="991" cy="103.6" r="3.15" fill="#fff"/>
<circle cx="1005" cy="101.4" r="3.15" fill="#fff"/>
<circle cx="1174" cy="94" r="3.15" fill="#fff"/>
<circle cx="1205.6" cy="92" r="3.15" fill="#fff"/>
<circle cx="1306" cy="80.6" r="3.15" fill="#fff"/>
<circle cx="1344.4" cy="13.4" r="3.15" fill="#fff"/>
<rect x="919.4" y="110.4" width="4" height="4" fill="#000"/>
<rect x="989" y="101.6" width="4" height="4" fill="#000"/>
<rect x="1003" y="94.4" width="4" height="4" fill="#000"/>
<rect x="1172" y="84.2" width="4" height="4" fill="#000"/>
<rect x="1203.6" y="73.2" width="4" height="4" fill="#000"/>
<rect x="1304" y="60" width="4" height="4" fill="#000"/>
<rect x="1342.4" y="18.5" width="4" height="4" fill="#000"/>
<polygon points="921.4,115.07 918.7,119.67 924.1,119.67" fill="#000"/>
<polygon points="991,111.47 988.3,116.07 993.7,116.07" fill="#000"/>
<polygon points="1005,107.07 1002.3,111.67 1007.7,111.67" fill="#000"/>
<polygon points="1174,96.67 1171.3,101.27 1176.7,101.27" fill="#000"/>
<polygon points="1205.6,90.67 1202.9,95.27 1208.3,95.27" fill="#000"/>
<polygon points="1306,74.47 1303.3,79.07 1308.7,79.07" fill="#000"/>
<polygon points="1344.4,18.47 1341.7,23.07 1347.1,23.07" fill="#000"/>
<circle cx="921.4" cy="105.6" r="2.25" fill="#000"/>
<circle cx="991" cy="103.6" r="2.25" fill="#000"/>
<circle cx="1005" cy="101.4" r="2.25" fill="#000"/>
<circle cx="1174" cy="94" r="2.25" fill="#000"/>
<circle cx="1205.6" cy="92" r="2.25" fill="#000"/>
<circle cx="1306" cy="80.6" r="2.25" fill="#000"/>
<circle cx="1344.4" cy="13.4" r="2.25" fill="#000"/>
<polyline points="921.4,261 991,251.4 1005,235 1174,221 1205.6,205.6 1306,198 1344.4,161.6" fill="none" stroke="#1a1a1a" stroke-width="0.9"/>
<polyline points="921.4,235 991,249.4 1005,243 1174,230 1205.6,227 1306,213.6 1344.4,159" fill="none" stroke="#1a1a1a" stroke-width="0.9"/>
<polyline points="921.4,205.6 991,216.6 1005,216 1174,210.4 1205.6,213.6 1306,206.4 1344.4,152" fill="none" stroke="#1a1a1a" stroke-width="0.9"/>
<rect x="918.5" y="258.1" width="5.8" height="5.8" fill="#fff"/>
<rect x="988.1" y="248.5" width="5.8" height="5.8" fill="#fff"/>
<rect x="1002.1" y="232.1" width="5.8" height="5.8" fill="#fff"/>
<rect x="1171.1" y="218.1" width="5.8" height="5.8" fill="#fff"/>
<rect x="1202.7" y="202.7" width="5.8" height="5.8" fill="#fff"/>
<rect x="1303.1" y="195.1" width="5.8" height="5.8" fill="#fff"/>
<rect x="1341.5" y="158.7" width="5.8" height="5.8" fill="#fff"/>
<polygon points="921.4,231.07 917.4,237.87 925.4,237.87" fill="#fff"/>
<polygon points="991,245.47 987,252.27 995,252.27" fill="#fff"/>
<polygon points="1005,239.07 1001,245.87 1009,245.87" fill="#fff"/>
<polygon points="1174,226.07 1170,232.87 1178,232.87" fill="#fff"/>
<polygon points="1205.6,223.07 1201.6,229.87 1209.6,229.87" fill="#fff"/>
<polygon points="1306,209.67 1302,216.47 1310,216.47" fill="#fff"/>
<polygon points="1344.4,155.07 1340.4,161.87 1348.4,161.87" fill="#fff"/>
<circle cx="921.4" cy="205.6" r="3.15" fill="#fff"/>
<circle cx="991" cy="216.6" r="3.15" fill="#fff"/>
<circle cx="1005" cy="216" r="3.15" fill="#fff"/>
<circle cx="1174" cy="210.4" r="3.15" fill="#fff"/>
<circle cx="1205.6" cy="213.6" r="3.15" fill="#fff"/>
<circle cx="1306" cy="206.4" r="3.15" fill="#fff"/>
<circle cx="1344.4" cy="152" r="3.15" fill="#fff"/>
<rect x="919.4" y="259" width="4" height="4" fill="#000"/>
<rect x="989" y="249.4" width="4" height="4" fill="#000"/>
<rect x="1003" y="233" width="4" height="4" fill="#000"/>
<rect x="1172" y="219" width="4" height="4" fill="#000"/>
<rect x="1203.6" y="203.6" width="4" height="4" fill="#000"/>
<rect x="1304" y="196" width="4" height="4" fill="#000"/>
<rect x="1342.4" y="159.6" width="4" height="4" fill="#000"/>
<polygon points="921.4,232.47 918.7,237.07 924.1,237.07" fill="#000"/>
<polygon points="991,246.87 988.3,251.47 993.7,251.47" fill="#000"/>
<polygon points="1005,240.47 1002.3,245.07 1007.7,245.07" fill="#000"/>
<polygon points="1174,227.47 1171.3,232.07 1176.7,232.07" fill="#000"/>
<polygon points="1205.6,224.47 1202.9,229.07 1208.3,229.07" fill="#000"/>
<polygon points="1306,211.07 1303.3,215.67 1308.7,215.67" fill="#000"/>
<polygon points="1344.4,156.47 1341.7,161.07 1347.1,161.07" fill="#000"/>
<circle cx="921.4" cy="205.6" r="2.25" fill="#000"/>
<circle cx="991" cy="216.6" r="2.25" fill="#000"/>
<circle cx="1005" cy="216" r="2.25" fill="#000"/>
<circle cx="1174" cy="210.4" r="2.25" fill="#000"/>
<circle cx="1205.6" cy="213.6" r="2.25" fill="#000"/>
<circle cx="1306" cy="206.4" r="2.25" fill="#000"/>
<circle cx="1344.4" cy="152" r="2.25" fill="#000"/>
<polyline points="921.4,311 991,325 1005,350.6 1174,366 1205.6,397 1306,398.6 1344.4,294.6" fill="none" stroke="#1a1a1a" stroke-width="0.9"/>
<polyline points="921.4,400.4 991,349.4 1005,326 1174,326 1205.6,302.6 1306,317.4 1344.4,349.6" fill="none" stroke="#1a1a1a" stroke-width="0.9"/>
<circle cx="921.4" cy="311" r="2.4" fill="#fff" stroke="#333" stroke-width="0.75"/>
<circle cx="991" cy="325" r="2.4" fill="#fff" stroke="#333" stroke-width="0.75"/>
<circle cx="1005" cy="350.6" r="2.4" fill="#fff" stroke="#333" stroke-width="0.75"/>
<circle cx="1174" cy="366" r="2.4" fill="#fff" stroke="#333" stroke-width="0.75"/>
<circle cx="1205.6" cy="397" r="2.4" fill="#fff" stroke="#333" stroke-width="0.75"/>
<circle cx="1306" cy="398.6" r="2.4" fill="#fff" stroke="#333" stroke-width="0.75"/>
<circle cx="1344.4" cy="294.6" r="2.4" fill="#fff" stroke="#333" stroke-width="0.75"/>
<polygon points="921.4,397.81 918.8,402.51 924,402.51" fill="#fff" stroke="#333" stroke-width="0.75" stroke-linejoin="miter"/>
<polygon points="991,346.81 988.4,351.51 993.6,351.51" fill="#fff" stroke="#333" stroke-width="0.75" stroke-linejoin="miter"/>
<polygon points="1005,323.42 1002.4,328.12 1007.6,328.12" fill="#fff" stroke="#333" stroke-width="0.75" stroke-linejoin="miter"/>
<polygon points="1174,323.42 1171.4,328.12 1176.6,328.12" fill="#fff" stroke="#333" stroke-width="0.75" stroke-linejoin="miter"/>
<polygon points="1205.6,300.02 1203,304.72 1208.2,304.72" fill="#fff" stroke="#333" stroke-width="0.75" stroke-linejoin="miter"/>
<polygon points="1306,314.81 1303.4,319.51 1308.6,319.51" fill="#fff" stroke="#333" stroke-width="0.75" stroke-linejoin="miter"/>
<polygon points="1344.4,347.02 1341.8,351.72 1347,351.72" fill="#fff" stroke="#333" stroke-width="0.75" stroke-linejoin="miter"/>
<text x="866.5" y="30.2" text-anchor="start" font-family="'Liberation Sans',Arial,sans-serif" font-weight="bold" font-size="29.5">D</text>
<text x="866.5" y="170" text-anchor="start" font-family="'Liberation Sans',Arial,sans-serif" font-weight="bold" font-size="29.5">E</text>
<text x="866.5" y="307.5" text-anchor="start" font-family="'Liberation Sans',Arial,sans-serif" font-weight="bold" font-size="29.5">F</text>
<text x="798" y="82.5" transform="rotate(-90 798 82.5)" text-anchor="middle" font-family="'Liberation Serif','Times New Roman',serif" font-weight="bold" font-size="11"><tspan>Cumulative </tspan><tspan font-size="7" dy="-5.7">7</tspan><tspan dy="5.7">Be deposition</tspan></text>
<text x="812.6" y="83" transform="rotate(-90 812.6 83)" text-anchor="middle" font-family="'Liberation Serif','Times New Roman',serif" font-weight="bold" font-size="11"><tspan>(Bq/m</tspan><tspan font-size="7" dy="-5.7">2</tspan><tspan dy="5.7">)</tspan></text>
<text x="1435" y="83.5" transform="rotate(-90 1435 83.5)" text-anchor="middle" font-family="'Liberation Serif','Times New Roman',serif" font-weight="bold" font-size="11"><tspan>Cumulative </tspan><tspan font-size="7" dy="-5.7">210</tspan><tspan dy="5.7">Pb deposition</tspan></text>
<text x="1450.6" y="83" transform="rotate(-90 1450.6 83)" text-anchor="middle" font-family="'Liberation Serif','Times New Roman',serif" font-weight="bold" font-size="11"><tspan>(Bq/m</tspan><tspan font-size="7" dy="-5.7">2</tspan><tspan dy="5.7">)</tspan></text>
<text x="1518" y="81.2" transform="rotate(-90 1518 81.2)" text-anchor="middle" font-family="'Liberation Serif','Times New Roman',serif" font-weight="bold" font-size="11"><tspan>Cumulative </tspan><tspan font-size="7" dy="-5.7">210</tspan><tspan dy="5.7">Po deposition</tspan></text>
<text x="1532.6" y="82.5" transform="rotate(-90 1532.6 82.5)" text-anchor="middle" font-family="'Liberation Serif','Times New Roman',serif" font-weight="bold" font-size="11"><tspan>(Bq/m</tspan><tspan font-size="7" dy="-5.7">2</tspan><tspan dy="5.7">)</tspan></text>
<text x="799" y="215.5" transform="rotate(-90 799 215.5)" text-anchor="middle" font-family="'Liberation Serif','Times New Roman',serif" font-weight="bold" font-size="11"><tspan>Cumulative </tspan><tspan font-size="7" dy="-5.7">7</tspan><tspan dy="5.7">Be activity</tspan></text>
<text x="812.8" y="216" transform="rotate(-90 812.8 216)" text-anchor="middle" font-family="'Liberation Serif','Times New Roman',serif" font-weight="bold" font-size="11"><tspan>(Bq/L)</tspan></text>
<text x="1436" y="215" transform="rotate(-90 1436 215)" text-anchor="middle" font-family="'Liberation Serif','Times New Roman',serif" font-weight="bold" font-size="11"><tspan>Cumulative </tspan><tspan font-size="7" dy="-5.7">210</tspan><tspan dy="5.7">Pb activity</tspan></text>
<text x="1449.8" y="215.5" transform="rotate(-90 1449.8 215.5)" text-anchor="middle" font-family="'Liberation Serif','Times New Roman',serif" font-weight="bold" font-size="11"><tspan>(Bq/L)</tspan></text>
<text x="1519" y="213.5" transform="rotate(-90 1519 213.5)" text-anchor="middle" font-family="'Liberation Serif','Times New Roman',serif" font-weight="bold" font-size="11"><tspan>Cumulative </tspan><tspan font-size="7" dy="-5.7">210</tspan><tspan dy="5.7">Po activity</tspan></text>
<text x="1532" y="215.5" transform="rotate(-90 1532 215.5)" text-anchor="middle" font-family="'Liberation Serif','Times New Roman',serif" font-weight="bold" font-size="11"><tspan>(Bq/L)</tspan></text>
<text x="809" y="353.5" transform="rotate(-90 809 353.5)" text-anchor="middle" font-family="'Liberation Serif','Times New Roman',serif" font-weight="bold" font-size="11"><tspan>Cumulative </tspan><tspan font-size="7" dy="-5.7">7</tspan><tspan dy="5.7">Be/</tspan><tspan font-size="7" dy="-5.7">210</tspan><tspan dy="5.7">Pb</tspan></text>
<text x="1432" y="347" transform="rotate(-90 1432 347)" text-anchor="middle" font-family="'Liberation Serif','Times New Roman',serif" font-weight="bold" font-size="11"><tspan>Cumulative </tspan><tspan font-size="7" dy="-5.7">210</tspan><tspan dy="5.7">Po/</tspan><tspan font-size="7" dy="-5.7">210</tspan><tspan dy="5.7">Pb</tspan></text>
<text x="1122.8" y="448.5" text-anchor="middle" font-family="'Liberation Serif','Times New Roman',serif" font-weight="bold" font-size="11">Elapsed time from the first single rainfall in July (d)</text>
<line x1="1447" y1="312.1" x2="1471.8" y2="312.1" stroke="#1a1a1a" stroke-width="0.9"/>
<circle cx="1459.2" cy="312.1" r="2.36" fill="#000"/>
<text x="1475" y="315.9" font-family="'Liberation Serif','Times New Roman',serif" font-weight="bold" font-size="11"><tspan font-size="7" dy="-6.0">7</tspan><tspan dy="6.0">Be</tspan></text>
<line x1="1447" y1="327.5" x2="1471.8" y2="327.5" stroke="#1a1a1a" stroke-width="0.9"/>
<polygon points="1459.2,324.84 1456.37,329.67 1462.04,329.67" fill="#000"/>
<text x="1475" y="331.3" font-family="'Liberation Serif','Times New Roman',serif" font-weight="bold" font-size="11"><tspan font-size="7" dy="-6.0">210</tspan><tspan dy="6.0">Pb</tspan></text>
<line x1="1447" y1="343.3" x2="1471.8" y2="343.3" stroke="#1a1a1a" stroke-width="0.9"/>
<rect x="1457.1" y="341.2" width="4.2" height="4.2" fill="#000"/>
<text x="1475" y="347.1" font-family="'Liberation Serif','Times New Roman',serif" font-weight="bold" font-size="11"><tspan font-size="7" dy="-6.0">210</tspan><tspan dy="6.0">Po</tspan></text>
<line x1="1447" y1="358.6" x2="1471.8" y2="358.6" stroke="#444" stroke-width="0.9"/>
<circle cx="1459.2" cy="358.6" r="2.52" fill="#fff" stroke="#333" stroke-width="0.75"/>
<text x="1475" y="362.4" font-family="'Liberation Serif','Times New Roman',serif" font-weight="bold" font-size="11"><tspan font-size="7" dy="-6.0">7</tspan><tspan dy="6.0">Be/</tspan><tspan font-size="7" dy="-6.0">210</tspan><tspan dy="6.0">Pb</tspan></text>
<line x1="1447" y1="374.8" x2="1471.8" y2="374.8" stroke="#444" stroke-width="0.9"/>
<polygon points="1459.2,372.09 1456.47,377.02 1461.93,377.02" fill="#fff" stroke="#333" stroke-width="0.75" stroke-linejoin="miter"/>
<text x="1475" y="378.6" font-family="'Liberation Serif','Times New Roman',serif" font-weight="bold" font-size="11"><tspan font-size="7" dy="-6.0">210</tspan><tspan dy="6.0">Po/</tspan><tspan font-size="7" dy="-6.0">210</tspan><tspan dy="6.0">Pb</tspan></text>
<rect x="399.4" y="514.6" width="520.6" height="127.8" fill="none" stroke="#222" stroke-width="1.2"/>
<rect x="399.4" y="654.4" width="520.6" height="127.6" fill="none" stroke="#222" stroke-width="1.2"/>
<rect x="399.4" y="793.6" width="520.6" height="127.8" fill="none" stroke="#222" stroke-width="1.2"/>
<line x1="399.4" y1="642.4" x2="399.4" y2="646.7" stroke="#222" stroke-width="1.2"/>
<line x1="451.46" y1="642.4" x2="451.46" y2="644.6" stroke="#222" stroke-width="1.2"/>
<line x1="503.52" y1="642.4" x2="503.52" y2="646.7" stroke="#222" stroke-width="1.2"/>
<line x1="555.58" y1="642.4" x2="555.58" y2="644.6" stroke="#222" stroke-width="1.2"/>
<line x1="607.64" y1="642.4" x2="607.64" y2="646.7" stroke="#222" stroke-width="1.2"/>
<line x1="659.7" y1="642.4" x2="659.7" y2="644.6" stroke="#222" stroke-width="1.2"/>
<line x1="711.76" y1="642.4" x2="711.76" y2="646.7" stroke="#222" stroke-width="1.2"/>
<line x1="763.82" y1="642.4" x2="763.82" y2="644.6" stroke="#222" stroke-width="1.2"/>
<line x1="815.88" y1="642.4" x2="815.88" y2="646.7" stroke="#222" stroke-width="1.2"/>
<line x1="867.94" y1="642.4" x2="867.94" y2="644.6" stroke="#222" stroke-width="1.2"/>
<line x1="920" y1="642.4" x2="920" y2="646.7" stroke="#222" stroke-width="1.2"/>
<line x1="399.4" y1="782" x2="399.4" y2="786.3" stroke="#222" stroke-width="1.2"/>
<line x1="451.46" y1="782" x2="451.46" y2="784.2" stroke="#222" stroke-width="1.2"/>
<line x1="503.52" y1="782" x2="503.52" y2="786.3" stroke="#222" stroke-width="1.2"/>
<line x1="555.58" y1="782" x2="555.58" y2="784.2" stroke="#222" stroke-width="1.2"/>
<line x1="607.64" y1="782" x2="607.64" y2="786.3" stroke="#222" stroke-width="1.2"/>
<line x1="659.7" y1="782" x2="659.7" y2="784.2" stroke="#222" stroke-width="1.2"/>
<line x1="711.76" y1="782" x2="711.76" y2="786.3" stroke="#222" stroke-width="1.2"/>
<line x1="763.82" y1="782" x2="763.82" y2="784.2" stroke="#222" stroke-width="1.2"/>
<line x1="815.88" y1="782" x2="815.88" y2="786.3" stroke="#222" stroke-width="1.2"/>
<line x1="867.94" y1="782" x2="867.94" y2="784.2" stroke="#222" stroke-width="1.2"/>
<line x1="920" y1="782" x2="920" y2="786.3" stroke="#222" stroke-width="1.2"/>
<line x1="399.4" y1="921.4" x2="399.4" y2="925.7" stroke="#222" stroke-width="1.2"/>
<text x="399.4" y="936" text-anchor="middle" font-family="'Liberation Serif','Times New Roman',serif" font-weight="bold" font-size="9">0</text>
<line x1="451.46" y1="921.4" x2="451.46" y2="923.6" stroke="#222" stroke-width="1.2"/>
<line x1="503.52" y1="921.4" x2="503.52" y2="925.7" stroke="#222" stroke-width="1.2"/>
<text x="503.52" y="936" text-anchor="middle" font-family="'Liberation Serif','Times New Roman',serif" font-weight="bold" font-size="9">5</text>
<line x1="555.58" y1="921.4" x2="555.58" y2="923.6" stroke="#222" stroke-width="1.2"/>
<line x1="607.64" y1="921.4" x2="607.64" y2="925.7" stroke="#222" stroke-width="1.2"/>
<text x="607.64" y="936" text-anchor="middle" font-family="'Liberation Serif','Times New Roman',serif" font-weight="bold" font-size="9">10</text>
<line x1="659.7" y1="921.4" x2="659.7" y2="923.6" stroke="#222" stroke-width="1.2"/>
<line x1="711.76" y1="921.4" x2="711.76" y2="925.7" stroke="#222" stroke-width="1.2"/>
<text x="711.76" y="936" text-anchor="middle" font-family="'Liberation Serif','Times New Roman',serif" font-weight="bold" font-size="9">15</text>
<line x1="763.82" y1="921.4" x2="763.82" y2="923.6" stroke="#222" stroke-width="1.2"/>
<line x1="815.88" y1="921.4" x2="815.88" y2="925.7" stroke="#222" stroke-width="1.2"/>
<text x="815.88" y="936" text-anchor="middle" font-family="'Liberation Serif','Times New Roman',serif" font-weight="bold" font-size="9">20</text>
<line x1="867.94" y1="921.4" x2="867.94" y2="923.6" stroke="#222" stroke-width="1.2"/>
<line x1="920" y1="921.4" x2="920" y2="925.7" stroke="#222" stroke-width="1.2"/>
<text x="920" y="936" text-anchor="middle" font-family="'Liberation Serif','Times New Roman',serif" font-weight="bold" font-size="9">25</text>
<line x1="399.4" y1="642.4" x2="395.4" y2="642.4" stroke="#222" stroke-width="1.2"/>
<text x="392.9" y="645.3" text-anchor="end" font-family="'Liberation Serif','Times New Roman',serif" font-weight="bold" font-size="9">0</text>
<line x1="399.4" y1="624.1" x2="397.2" y2="624.1" stroke="#222" stroke-width="1.2"/>
<line x1="399.4" y1="605.8" x2="395.4" y2="605.8" stroke="#222" stroke-width="1.2"/>
<text x="392.9" y="608.7" text-anchor="end" font-family="'Liberation Serif','Times New Roman',serif" font-weight="bold" font-size="9">20</text>
<line x1="399.4" y1="587.5" x2="397.2" y2="587.5" stroke="#222" stroke-width="1.2"/>
<line x1="399.4" y1="569.2" x2="395.4" y2="569.2" stroke="#222" stroke-width="1.2"/>
<text x="392.9" y="572.1" text-anchor="end" font-family="'Liberation Serif','Times New Roman',serif" font-weight="bold" font-size="9">40</text>
<line x1="399.4" y1="550.9" x2="397.2" y2="550.9" stroke="#222" stroke-width="1.2"/>
<line x1="399.4" y1="532.6" x2="395.4" y2="532.6" stroke="#222" stroke-width="1.2"/>
<text x="392.9" y="535.5" text-anchor="end" font-family="'Liberation Serif','Times New Roman',serif" font-weight="bold" font-size="9">60</text>
<line x1="399.4" y1="514.3" x2="397.2" y2="514.3" stroke="#222" stroke-width="1.2"/>
<line x1="920" y1="642.4" x2="924" y2="642.4" stroke="#222" stroke-width="1.2"/>
<text x="926.4" y="645.3" text-anchor="start" font-family="'Liberation Serif','Times New Roman',serif" font-weight="bold" font-size="9">0</text>
<line x1="920" y1="629.62" x2="922.2" y2="629.62" stroke="#222" stroke-width="1.2"/>
<line x1="920" y1="616.84" x2="924" y2="616.84" stroke="#222" stroke-width="1.2"/>
<text x="926.4" y="619.74" text-anchor="start" font-family="'Liberation Serif','Times New Roman',serif" font-weight="bold" font-size="9">4</text>
<line x1="920" y1="604.06" x2="922.2" y2="604.06" stroke="#222" stroke-width="1.2"/>
<line x1="920" y1="591.28" x2="924" y2="591.28" stroke="#222" stroke-width="1.2"/>
<text x="926.4" y="594.18" text-anchor="start" font-family="'Liberation Serif','Times New Roman',serif" font-weight="bold" font-size="9">8</text>
<line x1="920" y1="578.5" x2="922.2" y2="578.5" stroke="#222" stroke-width="1.2"/>
<line x1="920" y1="565.72" x2="924" y2="565.72" stroke="#222" stroke-width="1.2"/>
<text x="926.4" y="568.62" text-anchor="start" font-family="'Liberation Serif','Times New Roman',serif" font-weight="bold" font-size="9">12</text>
<line x1="920" y1="552.94" x2="922.2" y2="552.94" stroke="#222" stroke-width="1.2"/>
<line x1="920" y1="540.16" x2="924" y2="540.16" stroke="#222" stroke-width="1.2"/>
<text x="926.4" y="543.06" text-anchor="start" font-family="'Liberation Serif','Times New Roman',serif" font-weight="bold" font-size="9">16</text>
<line x1="920" y1="527.38" x2="922.2" y2="527.38" stroke="#222" stroke-width="1.2"/>
<line x1="920" y1="514.6" x2="924" y2="514.6" stroke="#222" stroke-width="1.2"/>
<text x="926.4" y="517.5" text-anchor="start" font-family="'Liberation Serif','Times New Roman',serif" font-weight="bold" font-size="9">20</text>
<line x1="997.8" y1="514.6" x2="997.8" y2="642.4" stroke="#222" stroke-width="1.2"/>
<line x1="997.8" y1="642.37" x2="1000" y2="642.37" stroke="#222" stroke-width="1.2"/>
<line x1="997.8" y1="626.4" x2="1001.8" y2="626.4" stroke="#222" stroke-width="1.2"/>
<text x="1004.2" y="629.3" text-anchor="start" font-family="'Liberation Serif','Times New Roman',serif" font-weight="bold" font-size="9">1</text>
<line x1="997.8" y1="610.43" x2="1000" y2="610.43" stroke="#222" stroke-width="1.2"/>
<line x1="997.8" y1="594.47" x2="1001.8" y2="594.47" stroke="#222" stroke-width="1.2"/>
<text x="1004.2" y="597.37" text-anchor="start" font-family="'Liberation Serif','Times New Roman',serif" font-weight="bold" font-size="9">2</text>
<line x1="997.8" y1="578.5" x2="1000" y2="578.5" stroke="#222" stroke-width="1.2"/>
<line x1="997.8" y1="562.53" x2="1001.8" y2="562.53" stroke="#222" stroke-width="1.2"/>
<text x="1004.2" y="565.43" text-anchor="start" font-family="'Liberation Serif','Times New Roman',serif" font-weight="bold" font-size="9">3</text>
<line x1="997.8" y1="546.57" x2="1000" y2="546.57" stroke="#222" stroke-width="1.2"/>
<line x1="997.8" y1="530.6" x2="1001.8" y2="530.6" stroke="#222" stroke-width="1.2"/>
<text x="1004.2" y="533.5" text-anchor="start" font-family="'Liberation Serif','Times New Roman',serif" font-weight="bold" font-size="9">4</text>
<line x1="997.8" y1="514.63" x2="1000" y2="514.63" stroke="#222" stroke-width="1.2"/>
<line x1="399.4" y1="782" x2="395.4" y2="782" stroke="#222" stroke-width="1.2"/>
<text x="392.9" y="784.9" text-anchor="end" font-family="'Liberation Serif','Times New Roman',serif" font-weight="bold" font-size="9">0.0</text>
<line x1="399.4" y1="763.73" x2="397.2" y2="763.73" stroke="#222" stroke-width="1.2"/>
<line x1="399.4" y1="745.47" x2="395.4" y2="745.47" stroke="#222" stroke-width="1.2"/>
<text x="392.9" y="748.37" text-anchor="end" font-family="'Liberation Serif','Times New Roman',serif" font-weight="bold" font-size="9">0.2</text>
<line x1="399.4" y1="727.2" x2="397.2" y2="727.2" stroke="#222" stroke-width="1.2"/>
<line x1="399.4" y1="708.93" x2="395.4" y2="708.93" stroke="#222" stroke-width="1.2"/>
<text x="392.9" y="711.83" text-anchor="end" font-family="'Liberation Serif','Times New Roman',serif" font-weight="bold" font-size="9">0.4</text>
<line x1="399.4" y1="690.67" x2="397.2" y2="690.67" stroke="#222" stroke-width="1.2"/>
<line x1="399.4" y1="672.4" x2="395.4" y2="672.4" stroke="#222" stroke-width="1.2"/>
<text x="392.9" y="675.3" text-anchor="end" font-family="'Liberation Serif','Times New Roman',serif" font-weight="bold" font-size="9">0.6</text>
<line x1="399.4" y1="654.13" x2="397.2" y2="654.13" stroke="#222" stroke-width="1.2"/>
<line x1="920" y1="782" x2="922.2" y2="782" stroke="#222" stroke-width="1.2"/>
<line x1="920" y1="766" x2="924" y2="766" stroke="#222" stroke-width="1.2"/>
<text x="926.4" y="768.9" text-anchor="start" font-family="'Liberation Serif','Times New Roman',serif" font-weight="bold" font-size="9">0.05</text>
<line x1="920" y1="750" x2="922.2" y2="750" stroke="#222" stroke-width="1.2"/>
<line x1="920" y1="734" x2="924" y2="734" stroke="#222" stroke-width="1.2"/>
<text x="926.4" y="736.9" text-anchor="start" font-family="'Liberation Serif','Times New Roman',serif" font-weight="bold" font-size="9">0.10</text>
<line x1="920" y1="718" x2="922.2" y2="718" stroke="#222" stroke-width="1.2"/>
<line x1="920" y1="702" x2="924" y2="702" stroke="#222" stroke-width="1.2"/>
<text x="926.4" y="704.9" text-anchor="start" font-family="'Liberation Serif','Times New Roman',serif" font-weight="bold" font-size="9">0.15</text>
<line x1="920" y1="686" x2="922.2" y2="686" stroke="#222" stroke-width="1.2"/>
<line x1="920" y1="670" x2="924" y2="670" stroke="#222" stroke-width="1.2"/>
<text x="926.4" y="672.9" text-anchor="start" font-family="'Liberation Serif','Times New Roman',serif" font-weight="bold" font-size="9">0.20</text>
<line x1="920" y1="654" x2="922.2" y2="654" stroke="#222" stroke-width="1.2"/>
<line x1="997.8" y1="654.4" x2="997.8" y2="782" stroke="#222" stroke-width="1.2"/>
<line x1="997.8" y1="781.6" x2="1000" y2="781.6" stroke="#222" stroke-width="1.2"/>
<line x1="997.8" y1="760.4" x2="1001.8" y2="760.4" stroke="#222" stroke-width="1.2"/>
<text x="1004.2" y="763.3" text-anchor="start" font-family="'Liberation Serif','Times New Roman',serif" font-weight="bold" font-size="9">0.03</text>
<line x1="997.8" y1="739.2" x2="1000" y2="739.2" stroke="#222" stroke-width="1.2"/>
<line x1="997.8" y1="718" x2="1001.8" y2="718" stroke="#222" stroke-width="1.2"/>
<text x="1004.2" y="720.9" text-anchor="start" font-family="'Liberation Serif','Times New Roman',serif" font-weight="bold" font-size="9">0.04</text>
<line x1="997.8" y1="696.8" x2="1000" y2="696.8" stroke="#222" stroke-width="1.2"/>
<line x1="997.8" y1="675.6" x2="1001.8" y2="675.6" stroke="#222" stroke-width="1.2"/>
<text x="1004.2" y="678.5" text-anchor="start" font-family="'Liberation Serif','Times New Roman',serif" font-weight="bold" font-size="9">0.05</text>
<line x1="997.8" y1="654.4" x2="1000" y2="654.4" stroke="#222" stroke-width="1.2"/>
<line x1="399.4" y1="921.4" x2="395.4" y2="921.4" stroke="#222" stroke-width="1.2"/>
<text x="392.9" y="924.3" text-anchor="end" font-family="'Liberation Serif','Times New Roman',serif" font-weight="bold" font-size="9">1</text>
<line x1="399.4" y1="903.1" x2="397.2" y2="903.1" stroke="#222" stroke-width="1.2"/>
<line x1="399.4" y1="884.8" x2="395.4" y2="884.8" stroke="#222" stroke-width="1.2"/>
<text x="392.9" y="887.7" text-anchor="end" font-family="'Liberation Serif','Times New Roman',serif" font-weight="bold" font-size="9">2</text>
<line x1="399.4" y1="866.5" x2="397.2" y2="866.5" stroke="#222" stroke-width="1.2"/>
<line x1="399.4" y1="848.2" x2="395.4" y2="848.2" stroke="#222" stroke-width="1.2"/>
<text x="392.9" y="851.1" text-anchor="end" font-family="'Liberation Serif','Times New Roman',serif" font-weight="bold" font-size="9">3</text>
<line x1="399.4" y1="829.9" x2="397.2" y2="829.9" stroke="#222" stroke-width="1.2"/>
<line x1="399.4" y1="811.6" x2="395.4" y2="811.6" stroke="#222" stroke-width="1.2"/>
<text x="392.9" y="814.5" text-anchor="end" font-family="'Liberation Serif','Times New Roman',serif" font-weight="bold" font-size="9">4</text>
<line x1="399.4" y1="793.3" x2="397.2" y2="793.3" stroke="#222" stroke-width="1.2"/>
<line x1="920" y1="921.4" x2="924" y2="921.4" stroke="#222" stroke-width="1.2"/>
<text x="926.4" y="924.3" text-anchor="start" font-family="'Liberation Serif','Times New Roman',serif" font-weight="bold" font-size="9">0.1</text>
<line x1="920" y1="907.15" x2="922.2" y2="907.15" stroke="#222" stroke-width="1.2"/>
<line x1="920" y1="892.9" x2="924" y2="892.9" stroke="#222" stroke-width="1.2"/>
<text x="926.4" y="895.8" text-anchor="start" font-family="'Liberation Serif','Times New Roman',serif" font-weight="bold" font-size="9">0.3</text>
<line x1="920" y1="878.65" x2="922.2" y2="878.65" stroke="#222" stroke-width="1.2"/>
<line x1="920" y1="864.4" x2="924" y2="864.4" stroke="#222" stroke-width="1.2"/>
<text x="926.4" y="867.3" text-anchor="start" font-family="'Liberation Serif','Times New Roman',serif" font-weight="bold" font-size="9">0.5</text>
<line x1="920" y1="850.15" x2="922.2" y2="850.15" stroke="#222" stroke-width="1.2"/>
<line x1="920" y1="835.9" x2="924" y2="835.9" stroke="#222" stroke-width="1.2"/>
<text x="926.4" y="838.8" text-anchor="start" font-family="'Liberation Serif','Times New Roman',serif" font-weight="bold" font-size="9">0.7</text>
<line x1="920" y1="821.65" x2="922.2" y2="821.65" stroke="#222" stroke-width="1.2"/>
<line x1="920" y1="807.4" x2="924" y2="807.4" stroke="#222" stroke-width="1.2"/>
<text x="926.4" y="810.3" text-anchor="start" font-family="'Liberation Serif','Times New Roman',serif" font-weight="bold" font-size="9">0.9</text>
<line x1="920" y1="793.15" x2="922.2" y2="793.15" stroke="#222" stroke-width="1.2"/>
<polyline points="424,623 688.4,604 751,596 813.4,587.6 880,553 898.6,536.4" fill="none" stroke="#1a1a1a" stroke-width="0.9"/>
<polyline points="424,634 688.4,614 751,605.4 813.4,592.4 880,546 898.6,523.6" fill="none" stroke="#1a1a1a" stroke-width="0.9"/>
<polyline points="424,639.4 688.4,618 751,600 813.4,585 880,552 898.6,538.6" fill="none" stroke="#1a1a1a" stroke-width="0.9"/>
<rect x="421.1" y="620.1" width="5.8" height="5.8" fill="#fff"/>
<rect x="685.5" y="601.1" width="5.8" height="5.8" fill="#fff"/>
<rect x="748.1" y="593.1" width="5.8" height="5.8" fill="#fff"/>
<rect x="810.5" y="584.7" width="5.8" height="5.8" fill="#fff"/>
<rect x="877.1" y="550.1" width="5.8" height="5.8" fill="#fff"/>
<rect x="895.7" y="533.5" width="5.8" height="5.8" fill="#fff"/>
<polygon points="424,630.07 420,636.87 428,636.87" fill="#fff"/>
<polygon points="688.4,610.07 684.4,616.87 692.4,616.87" fill="#fff"/>
<polygon points="751,601.47 747,608.27 755,608.27" fill="#fff"/>
<polygon points="813.4,588.47 809.4,595.27 817.4,595.27" fill="#fff"/>
<polygon points="880,542.07 876,548.87 884,548.87" fill="#fff"/>
<polygon points="898.6,519.67 894.6,526.47 902.6,526.47" fill="#fff"/>
<circle cx="424" cy="639.4" r="3.15" fill="#fff"/>
<circle cx="688.4" cy="618" r="3.15" fill="#fff"/>
<circle cx="751" cy="600" r="3.15" fill="#fff"/>
<circle cx="813.4" cy="585" r="3.15" fill="#fff"/>
<circle cx="880" cy="552" r="3.15" fill="#fff"/>
<circle cx="898.6" cy="538.6" r="3.15" fill="#fff"/>
<rect x="422" y="621" width="4" height="4" fill="#000"/>
<rect x="686.4" y="602" width="4" height="4" fill="#000"/>
<rect x="749" y="594" width="4" height="4" fill="#000"/>
<rect x="811.4" y="585.6" width="4" height="4" fill="#000"/>
<rect x="878" y="551" width="4" height="4" fill="#000"/>
<rect x="896.6" y="534.4" width="4" height="4" fill="#000"/>
<polygon points="424,631.47 421.3,636.07 426.7,636.07" fill="#000"/>
<polygon points="688.4,611.47 685.7,616.07 691.1,616.07" fill="#000"/>
<polygon points="751,602.87 748.3,607.47 753.7,607.47" fill="#000"/>
<polygon points="813.4,589.87 810.7,594.47 816.1,594.47" fill="#000"/>
<polygon points="880,543.47 877.3,548.07 882.7,548.07" fill="#000"/>
<polygon points="898.6,521.07 895.9,525.67 901.3,525.67" fill="#000"/>
<circle cx="424" cy="639.4" r="2.25" fill="#000"/>
<circle cx="688.4" cy="618" r="2.25" fill="#000"/>
<circle cx="751" cy="600" r="2.25" fill="#000"/>
<circle cx="813.4" cy="585" r="2.25" fill="#000"/>
<circle cx="880" cy="552" r="2.25" fill="#000"/>
<circle cx="898.6" cy="538.6" r="2.25" fill="#000"/>
<polyline points="424,679.4 688.4,769 751,765.6 813.4,760 880,705 898.6,725.6" fill="none" stroke="#1a1a1a" stroke-width="0.9"/>
<polyline points="424,762.6 688.4,751.6 751,743 813.4,729.6 880,672 898.6,679" fill="none" stroke="#1a1a1a" stroke-width="0.9"/>
<polyline points="424,770 688.4,742 751,719 813.4,703.2 880,664 898.6,677.6" fill="none" stroke="#1a1a1a" stroke-width="0.9"/>
<rect x="421.1" y="676.5" width="5.8" height="5.8" fill="#fff"/>
<rect x="685.5" y="766.1" width="5.8" height="5.8" fill="#fff"/>
<rect x="748.1" y="762.7" width="5.8" height="5.8" fill="#fff"/>
<rect x="810.5" y="757.1" width="5.8" height="5.8" fill="#fff"/>
<rect x="877.1" y="702.1" width="5.8" height="5.8" fill="#fff"/>
<rect x="895.7" y="722.7" width="5.8" height="5.8" fill="#fff"/>
<polygon points="424,758.67 420,765.47 428,765.47" fill="#fff"/>
<polygon points="688.4,747.67 684.4,754.47 692.4,754.47" fill="#fff"/>
<polygon points="751,739.07 747,745.87 755,745.87" fill="#fff"/>
<polygon points="813.4,725.67 809.4,732.47 817.4,732.47" fill="#fff"/>
<polygon points="880,668.07 876,674.87 884,674.87" fill="#fff"/>
<polygon points="898.6,675.07 894.6,681.87 902.6,681.87" fill="#fff"/>
<circle cx="424" cy="770" r="3.15" fill="#fff"/>
<circle cx="688.4" cy="742" r="3.15" fill="#fff"/>
<circle cx="751" cy="719" r="3.15" fill="#fff"/>
<circle cx="813.4" cy="703.2" r="3.15" fill="#fff"/>
<circle cx="880" cy="664" r="3.15" fill="#fff"/>
<circle cx="898.6" cy="677.6" r="3.15" fill="#fff"/>
<rect x="422" y="677.4" width="4" height="4" fill="#000"/>
<rect x="686.4" y="767" width="4" height="4" fill="#000"/>
<rect x="749" y="763.6" width="4" height="4" fill="#000"/>
<rect x="811.4" y="758" width="4" height="4" fill="#000"/>
<rect x="878" y="703" width="4" height="4" fill="#000"/>
<rect x="896.6" y="723.6" width="4" height="4" fill="#000"/>
<polygon points="424,760.07 421.3,764.67 426.7,764.67" fill="#000"/>
<polygon points="688.4,749.07 685.7,753.67 691.1,753.67" fill="#000"/>
<polygon points="751,740.47 748.3,745.07 753.7,745.07" fill="#000"/>
<polygon points="813.4,727.07 810.7,731.67 816.1,731.67" fill="#000"/>
<polygon points="880,669.47 877.3,674.07 882.7,674.07" fill="#000"/>
<polygon points="898.6,676.47 895.9,681.07 901.3,681.07" fill="#000"/>
<circle cx="424" cy="770" r="2.25" fill="#000"/>
<circle cx="688.4" cy="742" r="2.25" fill="#000"/>
<circle cx="751" cy="719" r="2.25" fill="#000"/>
<circle cx="813.4" cy="703.2" r="2.25" fill="#000"/>
<circle cx="880" cy="664" r="2.25" fill="#000"/>
<circle cx="898.6" cy="677.6" r="2.25" fill="#000"/>
<polyline points="424,912.4 688.4,846.4 751,809.4 813.4,809.6 880,837 898.6,845.6" fill="none" stroke="#1a1a1a" stroke-width="0.9"/>
<polyline points="424,807 688.4,880 751,887 813.4,895.4 880,903.6 898.6,906" fill="none" stroke="#1a1a1a" stroke-width="0.9"/>
<circle cx="424" cy="912.4" r="2.4" fill="#fff" stroke="#333" stroke-width="0.75"/>
<circle cx="688.4" cy="846.4" r="2.4" fill="#fff" stroke="#333" stroke-width="0.75"/>
<circle cx="751" cy="809.4" r="2.4" fill="#fff" stroke="#333" stroke-width="0.75"/>
<circle cx="813.4" cy="809.6" r="2.4" fill="#fff" stroke="#333" stroke-width="0.75"/>
<circle cx="880" cy="837" r="2.4" fill="#fff" stroke="#333" stroke-width="0.75"/>
<circle cx="898.6" cy="845.6" r="2.4" fill="#fff" stroke="#333" stroke-width="0.75"/>
<polygon points="424,804.41 421.4,809.12 426.6,809.12" fill="#fff" stroke="#333" stroke-width="0.75" stroke-linejoin="miter"/>
<polygon points="688.4,877.41 685.8,882.12 691,882.12" fill="#fff" stroke="#333" stroke-width="0.75" stroke-linejoin="miter"/>
<polygon points="751,884.41 748.4,889.12 753.6,889.12" fill="#fff" stroke="#333" stroke-width="0.75" stroke-linejoin="miter"/>
<polygon points="813.4,892.81 810.8,897.51 816,897.51" fill="#fff" stroke="#333" stroke-width="0.75" stroke-linejoin="miter"/>
<polygon points="880,901.01 877.4,905.72 882.6,905.72" fill="#fff" stroke="#333" stroke-width="0.75" stroke-linejoin="miter"/>
<polygon points="898.6,903.41 896,908.12 901.2,908.12" fill="#fff" stroke="#333" stroke-width="0.75" stroke-linejoin="miter"/>
<text x="402.5" y="539.5" text-anchor="start" font-family="'Liberation Sans',Arial,sans-serif" font-weight="bold" font-size="29.5">G</text>
<text x="399.5" y="677.2" text-anchor="start" font-family="'Liberation Sans',Arial,sans-serif" font-weight="bold" font-size="29.5">H</text>
<text x="404.5" y="818.5" text-anchor="start" font-family="'Liberation Sans',Arial,sans-serif" font-weight="bold" font-size="29.5">I</text>
<text x="348.6" y="594.5" transform="rotate(-90 348.6 594.5)" text-anchor="middle" font-family="'Liberation Serif','Times New Roman',serif" font-weight="bold" font-size="11"><tspan>Cumulative </tspan><tspan font-size="7" dy="-5.7">7</tspan><tspan dy="5.7">Be deposition</tspan></text>
<text x="364.6" y="594.5" transform="rotate(-90 364.6 594.5)" text-anchor="middle" font-family="'Liberation Serif','Times New Roman',serif" font-weight="bold" font-size="11"><tspan>(Bq/m</tspan><tspan font-size="7" dy="-5.7">2</tspan><tspan dy="5.7">)</tspan></text>
<text x="971.5" y="588" transform="rotate(-90 971.5 588)" text-anchor="middle" font-family="'Liberation Serif','Times New Roman',serif" font-weight="bold" font-size="11"><tspan>Cumulative </tspan><tspan font-size="7" dy="-5.7">210</tspan><tspan dy="5.7">Pb deposition</tspan></text>
<text x="987.6" y="588.5" transform="rotate(-90 987.6 588.5)" text-anchor="middle" font-family="'Liberation Serif','Times New Roman',serif" font-weight="bold" font-size="11"><tspan>(Bq/m</tspan><tspan font-size="7" dy="-5.7">2</tspan><tspan dy="5.7">)</tspan></text>
<text x="1043.6" y="586" transform="rotate(-90 1043.6 586)" text-anchor="middle" font-family="'Liberation Serif','Times New Roman',serif" font-weight="bold" font-size="11"><tspan>Cumulative </tspan><tspan font-size="7" dy="-5.7">210</tspan><tspan dy="5.7">Po deposition</tspan></text>
<text x="1059.8" y="588.5" transform="rotate(-90 1059.8 588.5)" text-anchor="middle" font-family="'Liberation Serif','Times New Roman',serif" font-weight="bold" font-size="11"><tspan>(Bq/m</tspan><tspan font-size="7" dy="-5.7">2</tspan><tspan dy="5.7">)</tspan></text>
<text x="348.3" y="733" transform="rotate(-90 348.3 733)" text-anchor="middle" font-family="'Liberation Serif','Times New Roman',serif" font-weight="bold" font-size="11"><tspan>Cumulative </tspan><tspan font-size="7" dy="-5.7">7</tspan><tspan dy="5.7">Be activity</tspan></text>
<text x="362.6" y="733" transform="rotate(-90 362.6 733)" text-anchor="middle" font-family="'Liberation Serif','Times New Roman',serif" font-weight="bold" font-size="11"><tspan>(Bq/L)</tspan></text>
<text x="973.5" y="727.5" transform="rotate(-90 973.5 727.5)" text-anchor="middle" font-family="'Liberation Serif','Times New Roman',serif" font-weight="bold" font-size="11"><tspan>Cumulative </tspan><tspan font-size="7" dy="-5.7">210</tspan><tspan dy="5.7">Pb activity</tspan></text>
<text x="987.6" y="727" transform="rotate(-90 987.6 727)" text-anchor="middle" font-family="'Liberation Serif','Times New Roman',serif" font-weight="bold" font-size="11"><tspan>(Bq/L)</tspan></text>
<text x="1045.5" y="727.5" transform="rotate(-90 1045.5 727.5)" text-anchor="middle" font-family="'Liberation Serif','Times New Roman',serif" font-weight="bold" font-size="11"><tspan>Cumulative </tspan><tspan font-size="7" dy="-5.7">210</tspan><tspan dy="5.7">Po activity</tspan></text>
<text x="1060.6" y="727" transform="rotate(-90 1060.6 727)" text-anchor="middle" font-family="'Liberation Serif','Times New Roman',serif" font-weight="bold" font-size="11"><tspan>(Bq/L)</tspan></text>
<text x="359.5" y="865" transform="rotate(-90 359.5 865)" text-anchor="middle" font-family="'Liberation Serif','Times New Roman',serif" font-weight="bold" font-size="11"><tspan>Cumulative </tspan><tspan font-size="7" dy="-5.7">7</tspan><tspan dy="5.7">Be/</tspan><tspan font-size="7" dy="-5.7">210</tspan><tspan dy="5.7">Pb</tspan></text>
<text x="967" y="859" transform="rotate(-90 967 859)" text-anchor="middle" font-family="'Liberation Serif','Times New Roman',serif" font-weight="bold" font-size="11"><tspan>Cumulative </tspan><tspan font-size="7" dy="-5.7">210</tspan><tspan dy="5.7">Po/</tspan><tspan font-size="7" dy="-5.7">210</tspan><tspan dy="5.7">Pb</tspan></text>
<text x="659.5" y="953" text-anchor="middle" font-family="'Liberation Serif','Times New Roman',serif" font-weight="bold" font-size="11">Elapsed time from the first single rainfall in August (d)</text>
<line x1="984" y1="825.6" x2="1009.6" y2="825.6" stroke="#1a1a1a" stroke-width="0.9"/>
<circle cx="997" cy="825.6" r="2.36" fill="#000"/>
<text x="1012.4" y="829.4" font-family="'Liberation Serif','Times New Roman',serif" font-weight="bold" font-size="11"><tspan font-size="7" dy="-6.0">7</tspan><tspan dy="6.0">Be</tspan></text>
<line x1="984" y1="841.4" x2="1009.6" y2="841.4" stroke="#1a1a1a" stroke-width="0.9"/>
<polygon points="997,838.74 994.16,843.57 999.84,843.57" fill="#000"/>
<text x="1012.4" y="845.2" font-family="'Liberation Serif','Times New Roman',serif" font-weight="bold" font-size="11"><tspan font-size="7" dy="-6.0">210</tspan><tspan dy="6.0">Pb</tspan></text>
<line x1="984" y1="857" x2="1009.6" y2="857" stroke="#1a1a1a" stroke-width="0.9"/>
<rect x="994.9" y="854.9" width="4.2" height="4.2" fill="#000"/>
<text x="1012.4" y="860.8" font-family="'Liberation Serif','Times New Roman',serif" font-weight="bold" font-size="11"><tspan font-size="7" dy="-6.0">210</tspan><tspan dy="6.0">Po</tspan></text>
<line x1="984" y1="873" x2="1009.6" y2="873" stroke="#444" stroke-width="0.9"/>
<circle cx="997" cy="873" r="2.52" fill="#fff" stroke="#333" stroke-width="0.75"/>
<text x="1012.4" y="876.8" font-family="'Liberation Serif','Times New Roman',serif" font-weight="bold" font-size="11"><tspan font-size="7" dy="-6.0">7</tspan><tspan dy="6.0">Be/</tspan><tspan font-size="7" dy="-6.0">210</tspan><tspan dy="6.0">Pb</tspan></text>
<line x1="984" y1="888.4" x2="1009.6" y2="888.4" stroke="#444" stroke-width="0.9"/>
<polygon points="997,885.69 994.27,890.62 999.73,890.62" fill="#fff" stroke="#333" stroke-width="0.75" stroke-linejoin="miter"/>
<text x="1012.4" y="892.2" font-family="'Liberation Serif','Times New Roman',serif" font-weight="bold" font-size="11"><tspan font-size="7" dy="-6.0">210</tspan><tspan dy="6.0">Po/</tspan><tspan font-size="7" dy="-6.0">210</tspan><tspan dy="6.0">Pb</tspan></text>
</svg>
</body></html>
